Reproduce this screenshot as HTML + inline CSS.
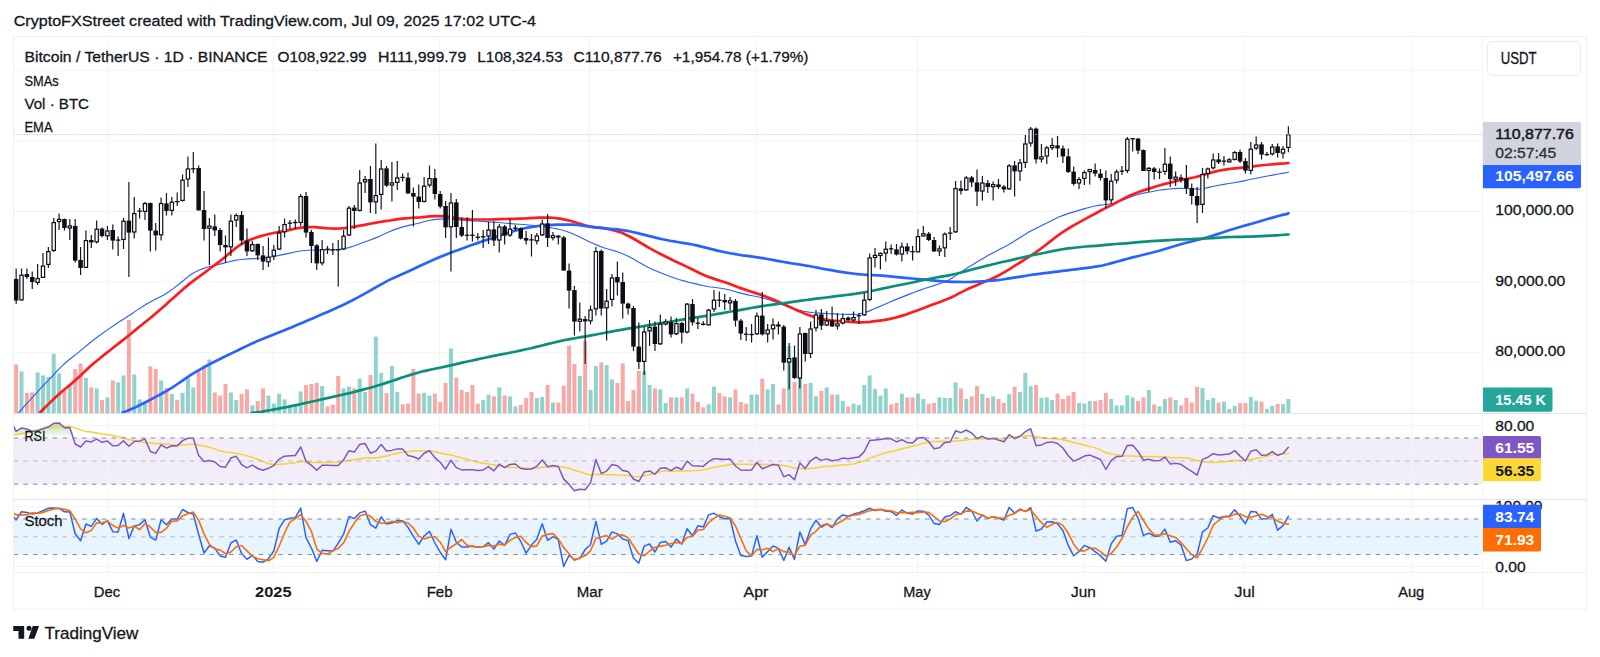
<!DOCTYPE html>
<html lang="en"><head><meta charset="utf-8"><title>BTCUSDT chart</title>
<style>
html,body{margin:0;padding:0;background:#fff;}
body{width:1600px;height:657px;overflow:hidden;font-family:"Liberation Sans", sans-serif;}
svg{display:block;font-family:"Liberation Sans", sans-serif;}
text{white-space:pre;}
</style></head><body>
<svg width="1600" height="657" viewBox="0 0 1600 657">
<rect x="0" y="0" width="1600" height="657" fill="#fff"/>
<rect x="13.5" y="438" width="1469.0" height="46.2" fill="#7e57c2" fill-opacity="0.1"/>
<rect x="13.5" y="519" width="1469.0" height="35.6" fill="#2196f3" fill-opacity="0.1"/>
<line x1="107.5" y1="36.5" x2="107.5" y2="572.5" stroke="#f4f4f7" stroke-width="1"/>
<line x1="273.5" y1="36.5" x2="273.5" y2="572.5" stroke="#f4f4f7" stroke-width="1"/>
<line x1="439.5" y1="36.5" x2="439.5" y2="572.5" stroke="#f4f4f7" stroke-width="1"/>
<line x1="589.5" y1="36.5" x2="589.5" y2="572.5" stroke="#f4f4f7" stroke-width="1"/>
<line x1="756.5" y1="36.5" x2="756.5" y2="572.5" stroke="#f4f4f7" stroke-width="1"/>
<line x1="917.5" y1="36.5" x2="917.5" y2="572.5" stroke="#f4f4f7" stroke-width="1"/>
<line x1="1083.5" y1="36.5" x2="1083.5" y2="572.5" stroke="#f4f4f7" stroke-width="1"/>
<line x1="1244.5" y1="36.5" x2="1244.5" y2="572.5" stroke="#f4f4f7" stroke-width="1"/>
<line x1="1411.5" y1="36.5" x2="1411.5" y2="572.5" stroke="#f4f4f7" stroke-width="1"/>
<line x1="13.5" y1="70.3" x2="1482.5" y2="70.3" stroke="#f4f4f7" stroke-width="1"/>
<line x1="13.5" y1="140.9" x2="1482.5" y2="140.9" stroke="#f4f4f7" stroke-width="1"/>
<line x1="13.5" y1="211.5" x2="1482.5" y2="211.5" stroke="#f4f4f7" stroke-width="1"/>
<line x1="13.5" y1="282.0" x2="1482.5" y2="282.0" stroke="#f4f4f7" stroke-width="1"/>
<line x1="13.5" y1="352.6" x2="1482.5" y2="352.6" stroke="#f4f4f7" stroke-width="1"/>
<line x1="13.5" y1="425.5" x2="1482.5" y2="425.5" stroke="#f4f4f7" stroke-width="1"/>
<line x1="13.5" y1="449.5" x2="1482.5" y2="449.5" stroke="#f4f4f7" stroke-width="1"/>
<line x1="13.5" y1="472.5" x2="1482.5" y2="472.5" stroke="#f4f4f7" stroke-width="1"/>
<line x1="13.5" y1="506.5" x2="1482.5" y2="506.5" stroke="#f4f4f7" stroke-width="1"/>
<line x1="13.5" y1="566.5" x2="1482.5" y2="566.5" stroke="#f4f4f7" stroke-width="1"/>
<defs><clipPath id="cm"><rect x="14.0" y="37" width="1468.0" height="376.5"/></clipPath><clipPath id="cr"><rect x="14.0" y="414" width="1468.0" height="85.5"/></clipPath><clipPath id="cs"><rect x="14.0" y="500" width="1468.0" height="72.5"/></clipPath></defs>
<g clip-path="url(#cm)">
<rect x="14.15" y="364.4" width="4" height="49.1" fill="#f7a9a7"/>
<rect x="19.52" y="371.4" width="4" height="42.1" fill="#92d2cc"/>
<rect x="24.89" y="393.0" width="4" height="20.5" fill="#f7a9a7"/>
<rect x="30.25" y="392.4" width="4" height="21.1" fill="#f7a9a7"/>
<rect x="35.62" y="372.4" width="4" height="41.1" fill="#92d2cc"/>
<rect x="40.99" y="375.4" width="4" height="38.1" fill="#92d2cc"/>
<rect x="46.36" y="377.0" width="4" height="36.5" fill="#92d2cc"/>
<rect x="51.73" y="353.6" width="4" height="59.9" fill="#92d2cc"/>
<rect x="57.09" y="373.4" width="4" height="40.1" fill="#92d2cc"/>
<rect x="62.46" y="391.0" width="4" height="22.5" fill="#f7a9a7"/>
<rect x="67.83" y="386.0" width="4" height="27.5" fill="#92d2cc"/>
<rect x="73.20" y="369.0" width="4" height="44.5" fill="#f7a9a7"/>
<rect x="78.57" y="363.6" width="4" height="49.9" fill="#f7a9a7"/>
<rect x="83.93" y="378.0" width="4" height="35.5" fill="#92d2cc"/>
<rect x="89.30" y="387.4" width="4" height="26.1" fill="#f7a9a7"/>
<rect x="94.67" y="388.4" width="4" height="25.1" fill="#92d2cc"/>
<rect x="100.04" y="400.0" width="4" height="13.5" fill="#f7a9a7"/>
<rect x="105.41" y="397.4" width="4" height="16.1" fill="#92d2cc"/>
<rect x="110.77" y="380.4" width="4" height="33.1" fill="#f7a9a7"/>
<rect x="116.14" y="382.4" width="4" height="31.1" fill="#92d2cc"/>
<rect x="121.51" y="375.4" width="4" height="38.1" fill="#92d2cc"/>
<rect x="126.88" y="320.0" width="4" height="93.5" fill="#f7a9a7"/>
<rect x="132.25" y="374.4" width="4" height="39.1" fill="#92d2cc"/>
<rect x="137.61" y="399.4" width="4" height="14.1" fill="#92d2cc"/>
<rect x="142.98" y="402.0" width="4" height="11.5" fill="#92d2cc"/>
<rect x="148.35" y="366.4" width="4" height="47.1" fill="#f7a9a7"/>
<rect x="153.72" y="369.0" width="4" height="44.5" fill="#f7a9a7"/>
<rect x="159.09" y="380.4" width="4" height="33.1" fill="#92d2cc"/>
<rect x="164.45" y="388.0" width="4" height="25.5" fill="#f7a9a7"/>
<rect x="169.82" y="394.0" width="4" height="19.5" fill="#92d2cc"/>
<rect x="175.19" y="400.0" width="4" height="13.5" fill="#f7a9a7"/>
<rect x="180.56" y="393.0" width="4" height="20.5" fill="#92d2cc"/>
<rect x="185.93" y="378.0" width="4" height="35.5" fill="#92d2cc"/>
<rect x="191.29" y="387.4" width="4" height="26.1" fill="#92d2cc"/>
<rect x="196.66" y="371.0" width="4" height="42.5" fill="#f7a9a7"/>
<rect x="202.03" y="365.4" width="4" height="48.1" fill="#f7a9a7"/>
<rect x="207.40" y="359.4" width="4" height="54.1" fill="#92d2cc"/>
<rect x="212.77" y="392.4" width="4" height="21.1" fill="#f7a9a7"/>
<rect x="218.13" y="395.6" width="4" height="17.9" fill="#f7a9a7"/>
<rect x="223.50" y="384.0" width="4" height="29.5" fill="#f7a9a7"/>
<rect x="228.87" y="392.4" width="4" height="21.1" fill="#92d2cc"/>
<rect x="234.24" y="400.0" width="4" height="13.5" fill="#92d2cc"/>
<rect x="239.61" y="394.0" width="4" height="19.5" fill="#f7a9a7"/>
<rect x="244.97" y="389.4" width="4" height="24.1" fill="#f7a9a7"/>
<rect x="250.34" y="405.4" width="4" height="8.1" fill="#92d2cc"/>
<rect x="255.71" y="401.0" width="4" height="12.5" fill="#f7a9a7"/>
<rect x="261.08" y="388.4" width="4" height="25.1" fill="#f7a9a7"/>
<rect x="266.45" y="395.6" width="4" height="17.9" fill="#92d2cc"/>
<rect x="271.81" y="403.6" width="4" height="9.9" fill="#92d2cc"/>
<rect x="277.18" y="393.6" width="4" height="19.9" fill="#92d2cc"/>
<rect x="282.55" y="399.4" width="4" height="14.1" fill="#92d2cc"/>
<rect x="287.92" y="407.0" width="4" height="6.5" fill="#92d2cc"/>
<rect x="293.29" y="406.0" width="4" height="7.5" fill="#92d2cc"/>
<rect x="298.65" y="391.4" width="4" height="22.1" fill="#92d2cc"/>
<rect x="304.02" y="385.0" width="4" height="28.5" fill="#f7a9a7"/>
<rect x="309.39" y="384.0" width="4" height="29.5" fill="#f7a9a7"/>
<rect x="314.76" y="383.0" width="4" height="30.5" fill="#f7a9a7"/>
<rect x="320.13" y="386.0" width="4" height="27.5" fill="#92d2cc"/>
<rect x="325.49" y="406.4" width="4" height="7.1" fill="#f7a9a7"/>
<rect x="330.86" y="404.6" width="4" height="8.9" fill="#f7a9a7"/>
<rect x="336.23" y="376.0" width="4" height="37.5" fill="#f7a9a7"/>
<rect x="341.60" y="388.4" width="4" height="25.1" fill="#92d2cc"/>
<rect x="346.97" y="386.6" width="4" height="26.9" fill="#92d2cc"/>
<rect x="352.33" y="388.4" width="4" height="25.1" fill="#f7a9a7"/>
<rect x="357.70" y="378.6" width="4" height="34.9" fill="#92d2cc"/>
<rect x="363.07" y="392.0" width="4" height="21.5" fill="#92d2cc"/>
<rect x="368.44" y="375.0" width="4" height="38.5" fill="#f7a9a7"/>
<rect x="373.81" y="336.6" width="4" height="76.9" fill="#92d2cc"/>
<rect x="379.17" y="373.0" width="4" height="40.5" fill="#92d2cc"/>
<rect x="384.54" y="393.0" width="4" height="20.5" fill="#f7a9a7"/>
<rect x="389.91" y="366.0" width="4" height="47.5" fill="#92d2cc"/>
<rect x="395.28" y="392.0" width="4" height="21.5" fill="#92d2cc"/>
<rect x="400.65" y="404.4" width="4" height="9.1" fill="#f7a9a7"/>
<rect x="406.01" y="403.6" width="4" height="9.9" fill="#f7a9a7"/>
<rect x="411.38" y="369.0" width="4" height="44.5" fill="#f7a9a7"/>
<rect x="416.75" y="393.6" width="4" height="19.9" fill="#f7a9a7"/>
<rect x="422.12" y="393.0" width="4" height="20.5" fill="#92d2cc"/>
<rect x="427.49" y="395.6" width="4" height="17.9" fill="#92d2cc"/>
<rect x="432.85" y="393.6" width="4" height="19.9" fill="#f7a9a7"/>
<rect x="438.22" y="402.0" width="4" height="11.5" fill="#f7a9a7"/>
<rect x="443.59" y="383.0" width="4" height="30.5" fill="#f7a9a7"/>
<rect x="448.96" y="348.4" width="4" height="65.1" fill="#92d2cc"/>
<rect x="454.33" y="377.6" width="4" height="35.9" fill="#f7a9a7"/>
<rect x="459.69" y="390.0" width="4" height="23.5" fill="#f7a9a7"/>
<rect x="465.06" y="392.0" width="4" height="21.5" fill="#f7a9a7"/>
<rect x="470.43" y="385.0" width="4" height="28.5" fill="#f7a9a7"/>
<rect x="475.80" y="403.6" width="4" height="9.9" fill="#f7a9a7"/>
<rect x="481.17" y="400.0" width="4" height="13.5" fill="#92d2cc"/>
<rect x="486.53" y="394.6" width="4" height="18.9" fill="#92d2cc"/>
<rect x="491.90" y="396.4" width="4" height="17.1" fill="#f7a9a7"/>
<rect x="497.27" y="387.4" width="4" height="26.1" fill="#92d2cc"/>
<rect x="502.64" y="395.4" width="4" height="18.1" fill="#f7a9a7"/>
<rect x="508.01" y="396.4" width="4" height="17.1" fill="#92d2cc"/>
<rect x="513.37" y="406.4" width="4" height="7.1" fill="#92d2cc"/>
<rect x="518.74" y="405.0" width="4" height="8.5" fill="#f7a9a7"/>
<rect x="524.11" y="398.0" width="4" height="15.5" fill="#f7a9a7"/>
<rect x="529.48" y="392.0" width="4" height="21.5" fill="#f7a9a7"/>
<rect x="534.85" y="398.0" width="4" height="15.5" fill="#92d2cc"/>
<rect x="540.21" y="397.0" width="4" height="16.5" fill="#92d2cc"/>
<rect x="545.58" y="385.0" width="4" height="28.5" fill="#f7a9a7"/>
<rect x="550.95" y="402.6" width="4" height="10.9" fill="#92d2cc"/>
<rect x="556.32" y="402.6" width="4" height="10.9" fill="#f7a9a7"/>
<rect x="561.69" y="385.6" width="4" height="27.9" fill="#f7a9a7"/>
<rect x="567.05" y="345.6" width="4" height="67.9" fill="#f7a9a7"/>
<rect x="572.42" y="364.0" width="4" height="49.5" fill="#f7a9a7"/>
<rect x="577.79" y="376.0" width="4" height="37.5" fill="#92d2cc"/>
<rect x="583.16" y="341.0" width="4" height="72.5" fill="#f7a9a7"/>
<rect x="588.53" y="390.0" width="4" height="23.5" fill="#92d2cc"/>
<rect x="593.89" y="366.0" width="4" height="47.5" fill="#92d2cc"/>
<rect x="599.26" y="362.4" width="4" height="51.1" fill="#f7a9a7"/>
<rect x="604.63" y="365.0" width="4" height="48.5" fill="#92d2cc"/>
<rect x="610.00" y="379.4" width="4" height="34.1" fill="#92d2cc"/>
<rect x="615.37" y="383.0" width="4" height="30.5" fill="#f7a9a7"/>
<rect x="620.73" y="363.4" width="4" height="50.1" fill="#f7a9a7"/>
<rect x="626.10" y="401.0" width="4" height="12.5" fill="#f7a9a7"/>
<rect x="631.47" y="390.0" width="4" height="23.5" fill="#f7a9a7"/>
<rect x="636.84" y="371.0" width="4" height="42.5" fill="#f7a9a7"/>
<rect x="642.21" y="371.0" width="4" height="42.5" fill="#92d2cc"/>
<rect x="647.57" y="385.0" width="4" height="28.5" fill="#92d2cc"/>
<rect x="652.94" y="388.4" width="4" height="25.1" fill="#f7a9a7"/>
<rect x="658.31" y="389.4" width="4" height="24.1" fill="#92d2cc"/>
<rect x="663.68" y="403.0" width="4" height="10.5" fill="#92d2cc"/>
<rect x="669.05" y="397.4" width="4" height="16.1" fill="#f7a9a7"/>
<rect x="674.41" y="397.4" width="4" height="16.1" fill="#92d2cc"/>
<rect x="679.78" y="397.4" width="4" height="16.1" fill="#f7a9a7"/>
<rect x="685.15" y="388.4" width="4" height="25.1" fill="#92d2cc"/>
<rect x="690.52" y="393.6" width="4" height="19.9" fill="#f7a9a7"/>
<rect x="695.89" y="402.0" width="4" height="11.5" fill="#f7a9a7"/>
<rect x="701.25" y="407.4" width="4" height="6.1" fill="#f7a9a7"/>
<rect x="706.62" y="404.4" width="4" height="9.1" fill="#92d2cc"/>
<rect x="711.99" y="386.6" width="4" height="26.9" fill="#92d2cc"/>
<rect x="717.36" y="393.0" width="4" height="20.5" fill="#f7a9a7"/>
<rect x="722.73" y="396.4" width="4" height="17.1" fill="#f7a9a7"/>
<rect x="728.09" y="397.4" width="4" height="16.1" fill="#92d2cc"/>
<rect x="733.46" y="389.4" width="4" height="24.1" fill="#f7a9a7"/>
<rect x="738.83" y="402.0" width="4" height="11.5" fill="#f7a9a7"/>
<rect x="744.20" y="403.6" width="4" height="9.9" fill="#f7a9a7"/>
<rect x="749.57" y="394.6" width="4" height="18.9" fill="#92d2cc"/>
<rect x="754.93" y="394.6" width="4" height="18.9" fill="#92d2cc"/>
<rect x="760.30" y="378.6" width="4" height="34.9" fill="#f7a9a7"/>
<rect x="765.67" y="389.4" width="4" height="24.1" fill="#92d2cc"/>
<rect x="771.04" y="384.0" width="4" height="29.5" fill="#92d2cc"/>
<rect x="776.41" y="404.4" width="4" height="9.1" fill="#f7a9a7"/>
<rect x="781.77" y="388.4" width="4" height="25.1" fill="#f7a9a7"/>
<rect x="787.14" y="346.0" width="4" height="67.5" fill="#92d2cc"/>
<rect x="792.51" y="382.0" width="4" height="31.5" fill="#f7a9a7"/>
<rect x="797.88" y="348.0" width="4" height="65.5" fill="#92d2cc"/>
<rect x="803.25" y="384.0" width="4" height="29.5" fill="#f7a9a7"/>
<rect x="808.61" y="383.0" width="4" height="30.5" fill="#92d2cc"/>
<rect x="813.98" y="396.4" width="4" height="17.1" fill="#92d2cc"/>
<rect x="819.35" y="391.0" width="4" height="22.5" fill="#f7a9a7"/>
<rect x="824.72" y="387.4" width="4" height="26.1" fill="#92d2cc"/>
<rect x="830.09" y="394.6" width="4" height="18.9" fill="#f7a9a7"/>
<rect x="835.45" y="394.6" width="4" height="18.9" fill="#92d2cc"/>
<rect x="840.82" y="401.0" width="4" height="12.5" fill="#92d2cc"/>
<rect x="846.19" y="406.4" width="4" height="7.1" fill="#f7a9a7"/>
<rect x="851.56" y="403.6" width="4" height="9.9" fill="#92d2cc"/>
<rect x="856.93" y="405.0" width="4" height="8.5" fill="#92d2cc"/>
<rect x="862.29" y="385.0" width="4" height="28.5" fill="#92d2cc"/>
<rect x="867.66" y="375.4" width="4" height="38.1" fill="#92d2cc"/>
<rect x="873.03" y="389.0" width="4" height="24.5" fill="#92d2cc"/>
<rect x="878.40" y="395.6" width="4" height="17.9" fill="#92d2cc"/>
<rect x="883.77" y="388.4" width="4" height="25.1" fill="#92d2cc"/>
<rect x="889.13" y="404.4" width="4" height="9.1" fill="#f7a9a7"/>
<rect x="894.50" y="403.0" width="4" height="10.5" fill="#f7a9a7"/>
<rect x="899.87" y="393.6" width="4" height="19.9" fill="#92d2cc"/>
<rect x="905.24" y="397.4" width="4" height="16.1" fill="#f7a9a7"/>
<rect x="910.61" y="397.4" width="4" height="16.1" fill="#f7a9a7"/>
<rect x="915.97" y="393.6" width="4" height="19.9" fill="#92d2cc"/>
<rect x="921.34" y="399.0" width="4" height="14.5" fill="#92d2cc"/>
<rect x="926.71" y="403.6" width="4" height="9.9" fill="#f7a9a7"/>
<rect x="932.08" y="403.0" width="4" height="10.5" fill="#f7a9a7"/>
<rect x="937.45" y="397.4" width="4" height="16.1" fill="#92d2cc"/>
<rect x="942.81" y="398.0" width="4" height="15.5" fill="#92d2cc"/>
<rect x="948.18" y="398.0" width="4" height="15.5" fill="#92d2cc"/>
<rect x="953.55" y="382.4" width="4" height="31.1" fill="#92d2cc"/>
<rect x="958.92" y="388.4" width="4" height="25.1" fill="#f7a9a7"/>
<rect x="964.29" y="399.0" width="4" height="14.5" fill="#92d2cc"/>
<rect x="969.65" y="396.4" width="4" height="17.1" fill="#f7a9a7"/>
<rect x="975.02" y="386.0" width="4" height="27.5" fill="#f7a9a7"/>
<rect x="980.39" y="394.0" width="4" height="19.5" fill="#92d2cc"/>
<rect x="985.76" y="398.0" width="4" height="15.5" fill="#f7a9a7"/>
<rect x="991.13" y="396.4" width="4" height="17.1" fill="#92d2cc"/>
<rect x="996.49" y="399.0" width="4" height="14.5" fill="#f7a9a7"/>
<rect x="1001.86" y="403.0" width="4" height="10.5" fill="#f7a9a7"/>
<rect x="1007.23" y="394.0" width="4" height="19.5" fill="#92d2cc"/>
<rect x="1012.60" y="386.6" width="4" height="26.9" fill="#f7a9a7"/>
<rect x="1017.97" y="392.0" width="4" height="21.5" fill="#92d2cc"/>
<rect x="1023.33" y="373.0" width="4" height="40.5" fill="#92d2cc"/>
<rect x="1028.70" y="386.0" width="4" height="27.5" fill="#92d2cc"/>
<rect x="1034.07" y="385.0" width="4" height="28.5" fill="#f7a9a7"/>
<rect x="1039.44" y="398.0" width="4" height="15.5" fill="#92d2cc"/>
<rect x="1044.81" y="397.4" width="4" height="16.1" fill="#92d2cc"/>
<rect x="1050.17" y="400.0" width="4" height="13.5" fill="#92d2cc"/>
<rect x="1055.54" y="393.6" width="4" height="19.9" fill="#f7a9a7"/>
<rect x="1060.91" y="399.0" width="4" height="14.5" fill="#f7a9a7"/>
<rect x="1066.28" y="395.6" width="4" height="17.9" fill="#f7a9a7"/>
<rect x="1071.65" y="392.0" width="4" height="21.5" fill="#f7a9a7"/>
<rect x="1077.01" y="403.0" width="4" height="10.5" fill="#92d2cc"/>
<rect x="1082.38" y="403.6" width="4" height="9.9" fill="#92d2cc"/>
<rect x="1087.75" y="401.0" width="4" height="12.5" fill="#92d2cc"/>
<rect x="1093.12" y="401.0" width="4" height="12.5" fill="#f7a9a7"/>
<rect x="1098.49" y="400.0" width="4" height="13.5" fill="#f7a9a7"/>
<rect x="1103.85" y="393.0" width="4" height="20.5" fill="#f7a9a7"/>
<rect x="1109.22" y="399.0" width="4" height="14.5" fill="#92d2cc"/>
<rect x="1114.59" y="405.4" width="4" height="8.1" fill="#92d2cc"/>
<rect x="1119.96" y="405.4" width="4" height="8.1" fill="#92d2cc"/>
<rect x="1125.33" y="395.4" width="4" height="18.1" fill="#92d2cc"/>
<rect x="1130.69" y="397.4" width="4" height="16.1" fill="#92d2cc"/>
<rect x="1136.06" y="401.0" width="4" height="12.5" fill="#f7a9a7"/>
<rect x="1141.43" y="397.4" width="4" height="16.1" fill="#f7a9a7"/>
<rect x="1146.80" y="390.0" width="4" height="23.5" fill="#92d2cc"/>
<rect x="1152.17" y="404.4" width="4" height="9.1" fill="#f7a9a7"/>
<rect x="1157.53" y="406.4" width="4" height="7.1" fill="#92d2cc"/>
<rect x="1162.90" y="399.0" width="4" height="14.5" fill="#92d2cc"/>
<rect x="1168.27" y="397.4" width="4" height="16.1" fill="#f7a9a7"/>
<rect x="1173.64" y="400.0" width="4" height="13.5" fill="#92d2cc"/>
<rect x="1179.01" y="405.4" width="4" height="8.1" fill="#f7a9a7"/>
<rect x="1184.37" y="398.0" width="4" height="15.5" fill="#f7a9a7"/>
<rect x="1189.74" y="402.5" width="4" height="11.0" fill="#f7a9a7"/>
<rect x="1195.11" y="387.0" width="4" height="26.5" fill="#f7a9a7"/>
<rect x="1200.48" y="388.0" width="4" height="25.5" fill="#92d2cc"/>
<rect x="1205.85" y="399.8" width="4" height="13.7" fill="#92d2cc"/>
<rect x="1211.21" y="398.0" width="4" height="15.5" fill="#92d2cc"/>
<rect x="1216.58" y="402.5" width="4" height="11.0" fill="#f7a9a7"/>
<rect x="1221.95" y="401.6" width="4" height="11.9" fill="#92d2cc"/>
<rect x="1227.32" y="408.8" width="4" height="4.7" fill="#92d2cc"/>
<rect x="1232.69" y="405.9" width="4" height="7.6" fill="#92d2cc"/>
<rect x="1238.05" y="403.1" width="4" height="10.4" fill="#f7a9a7"/>
<rect x="1243.42" y="403.1" width="4" height="10.4" fill="#f7a9a7"/>
<rect x="1248.79" y="396.9" width="4" height="16.6" fill="#92d2cc"/>
<rect x="1254.16" y="400.7" width="4" height="12.8" fill="#92d2cc"/>
<rect x="1259.53" y="401.6" width="4" height="11.9" fill="#f7a9a7"/>
<rect x="1264.89" y="408.8" width="4" height="4.7" fill="#92d2cc"/>
<rect x="1270.26" y="405.9" width="4" height="7.6" fill="#92d2cc"/>
<rect x="1275.63" y="404.0" width="4" height="9.5" fill="#f7a9a7"/>
<rect x="1281.00" y="404.2" width="4" height="9.3" fill="#92d2cc"/>
<rect x="1286.37" y="399.0" width="4" height="14.5" fill="#92d2cc"/>
<path d="M18.8 412.5L23.8 406.9L28.8 401.4L33.8 395.8L38.8 390.3L43.8 385.0L48.8 379.9L53.8 374.5L58.8 369.1L63.8 364.3L68.8 360.0L73.8 356.0L78.8 352.1L83.8 347.9L88.8 343.7L93.8 339.7L98.8 336.0L103.8 332.4L108.8 328.9L113.8 325.5L118.8 322.1L123.8 318.9L128.8 315.7L133.8 312.4L138.8 308.9L143.8 305.7L148.8 302.7L153.8 300.1L158.8 297.6L163.8 294.9L168.8 291.7L173.8 288.1L178.8 284.3L183.8 280.2L188.8 276.1L193.8 272.7L198.8 270.3L203.8 268.4L208.8 266.8L213.8 265.5L218.8 264.4L223.8 263.1L228.8 261.7L233.8 260.6L238.8 259.8L243.8 259.2L248.8 258.9L253.8 258.6L258.8 258.3L263.8 258.0L268.8 257.4L273.8 256.5L278.8 255.4L283.8 254.4L288.8 253.4L293.8 252.3L298.8 251.2L303.8 250.5L308.8 250.2L313.8 250.0L318.8 250.0L323.8 250.0L328.8 250.0L333.8 249.8L338.8 249.4L343.8 248.7L348.8 247.6L353.8 246.0L358.8 244.2L363.8 242.3L368.8 240.5L373.8 238.6L378.8 236.6L383.8 234.3L388.8 232.0L393.8 229.9L398.8 228.1L403.8 226.6L408.8 225.4L413.8 224.3L418.8 223.2L423.8 221.8L428.8 220.5L433.8 219.6L438.8 219.1L443.8 219.0L448.8 219.2L453.8 219.5L458.8 219.9L463.8 220.3L468.8 220.6L473.8 220.9L478.8 221.2L483.8 221.5L488.8 221.9L493.8 222.2L498.8 222.5L503.8 223.0L508.8 223.5L513.8 223.9L518.8 224.2L523.8 224.5L528.8 225.0L533.8 225.5L538.8 226.1L543.8 226.7L548.8 227.4L553.8 228.2L558.8 229.2L563.8 230.5L568.8 232.2L573.8 234.2L578.8 236.5L583.8 239.1L588.8 241.5L593.8 243.7L598.8 245.9L603.8 247.8L608.8 249.2L613.8 250.6L618.8 252.3L623.8 254.2L628.8 256.6L633.8 259.3L638.8 262.2L643.8 265.0L648.8 267.7L653.8 270.0L658.8 272.0L663.8 274.0L668.8 276.0L673.8 277.8L678.8 279.5L683.8 280.9L688.8 282.2L693.8 283.4L698.8 284.6L703.8 285.7L708.8 286.7L713.8 287.3L718.8 288.0L723.8 288.8L728.8 289.8L733.8 291.2L738.8 292.6L743.8 293.9L748.8 295.1L753.8 296.0L758.8 297.0L763.8 298.2L768.8 299.7L773.8 301.4L778.8 303.3L783.8 305.2L788.8 307.0L793.8 308.6L798.8 310.0L803.8 311.2L808.8 312.1L813.8 312.7L818.8 313.1L823.8 313.4L828.8 313.7L833.8 313.9L838.8 314.2L843.8 314.3L848.8 314.4L853.8 314.4L858.8 314.0L863.8 312.9L868.8 311.1L873.8 309.0L878.8 306.9L883.8 304.7L888.8 302.5L893.8 300.4L898.8 298.4L903.8 296.4L908.8 294.4L913.8 292.5L918.8 290.6L923.8 288.8L928.8 287.2L933.8 285.6L938.8 284.0L943.8 282.3L948.8 280.1L953.8 277.1L958.8 273.6L963.8 270.2L968.8 267.0L973.8 263.9L978.8 260.8L983.8 257.9L988.8 255.0L993.8 252.4L998.8 249.8L1003.8 247.2L1008.8 244.4L1013.8 241.4L1018.8 238.3L1023.8 235.2L1028.8 232.1L1033.8 229.4L1038.8 226.9L1043.8 224.4L1048.8 221.9L1053.8 219.4L1058.8 217.0L1063.8 215.1L1068.8 213.4L1073.8 211.9L1078.8 210.4L1083.8 208.9L1088.8 207.5L1093.8 206.3L1098.8 205.4L1103.8 204.8L1108.8 204.1L1113.8 203.1L1118.8 201.5L1123.8 199.6L1128.8 197.6L1133.8 195.8L1138.8 194.3L1143.8 193.1L1148.8 192.2L1153.8 191.2L1158.8 190.3L1163.8 189.6L1168.8 189.0L1173.8 188.6L1178.8 188.4L1183.8 188.5L1188.8 188.7L1193.8 189.0L1198.8 189.1L1203.8 188.5L1208.8 187.4L1213.8 186.3L1218.8 185.3L1223.8 184.4L1228.8 183.5L1233.8 182.7L1238.8 181.9L1243.8 180.9L1248.8 179.8L1253.8 178.8L1258.8 177.8L1263.8 176.8L1268.8 175.8L1273.8 174.9L1278.8 174.0L1283.8 173.1L1288.5 172.2" stroke="#2962ff" stroke-width="1.15" fill="none" stroke-linejoin="round" stroke-linecap="round"/>
<path d="M40.0 412.5L45.0 407.5L50.0 402.6L55.0 397.8L60.0 393.3L65.0 389.0L70.0 384.9L75.0 380.6L80.0 376.0L85.0 371.3L90.0 366.6L95.0 362.3L100.0 358.2L105.0 354.1L110.0 350.2L115.0 346.3L120.0 342.4L125.0 338.5L130.0 334.5L135.0 330.4L140.0 326.3L145.0 322.2L150.0 318.2L155.0 314.1L160.0 309.8L165.0 305.4L170.0 300.8L175.0 296.4L180.0 292.0L185.0 287.6L190.0 283.4L195.0 279.6L200.0 276.0L205.0 272.3L210.0 268.5L215.0 264.9L220.0 261.1L225.0 257.0L230.0 252.7L235.0 248.6L240.0 245.0L245.0 242.1L250.0 239.8L255.0 238.0L260.0 236.4L265.0 235.0L270.0 233.8L275.0 232.8L280.0 231.8L285.0 230.9L290.0 229.9L295.0 228.8L300.0 227.8L305.0 227.2L310.0 227.0L315.0 227.2L320.0 227.6L325.0 228.1L330.0 228.5L335.0 228.7L340.0 228.5L345.0 228.1L350.0 227.4L355.0 226.6L360.0 225.7L365.0 224.8L370.0 223.8L375.0 222.9L380.0 222.0L385.0 221.2L390.0 220.5L395.0 219.6L400.0 218.9L405.0 218.4L410.0 218.0L415.0 217.7L420.0 217.4L425.0 216.9L430.0 216.4L435.0 216.1L440.0 216.1L445.0 216.4L450.0 217.1L455.0 217.9L460.0 218.6L465.0 219.1L470.0 219.4L475.0 219.5L480.0 219.5L485.0 219.5L490.0 219.5L495.0 219.4L500.0 219.2L505.0 219.0L510.0 218.8L515.0 218.8L520.0 218.7L525.0 218.5L530.0 218.2L535.0 217.9L540.0 217.6L545.0 217.5L550.0 217.6L555.0 218.0L560.0 218.6L565.0 219.6L570.0 220.8L575.0 222.3L580.0 223.8L585.0 225.3L590.0 226.5L595.0 227.2L600.0 227.7L605.0 228.4L610.0 229.4L615.0 230.6L620.0 232.1L625.0 234.2L630.0 236.7L635.0 239.5L640.0 242.5L645.0 245.5L650.0 248.4L655.0 251.1L660.0 253.7L665.0 256.2L670.0 258.7L675.0 261.2L680.0 263.5L685.0 265.9L690.0 268.3L695.0 270.8L700.0 273.3L705.0 275.5L710.0 277.4L715.0 279.1L720.0 280.7L725.0 282.3L730.0 284.1L735.0 286.0L740.0 287.9L745.0 289.6L750.0 291.2L755.0 292.9L760.0 294.5L765.0 296.3L770.0 298.2L775.0 300.3L780.0 302.5L785.0 304.8L790.0 307.0L795.0 309.4L800.0 311.6L805.0 313.7L810.0 315.6L815.0 317.2L820.0 318.5L825.0 319.6L830.0 320.3L835.0 320.8L840.0 321.2L845.0 321.5L850.0 321.8L855.0 322.1L860.0 322.3L865.0 322.2L870.0 321.8L875.0 321.2L880.0 320.6L885.0 319.9L890.0 318.9L895.0 317.8L900.0 316.4L905.0 314.9L910.0 313.1L915.0 311.2L920.0 309.4L925.0 307.5L930.0 305.6L935.0 303.8L940.0 301.9L945.0 300.0L950.0 298.0L955.0 295.6L960.0 292.9L965.0 290.4L970.0 288.0L975.0 285.9L980.0 283.8L985.0 281.6L990.0 279.5L995.0 277.2L1000.0 274.7L1005.0 271.8L1010.0 268.8L1015.0 265.6L1020.0 262.5L1025.0 259.4L1030.0 256.2L1035.0 252.8L1040.0 249.3L1045.0 245.5L1050.0 241.6L1055.0 237.7L1060.0 234.0L1065.0 230.6L1070.0 227.5L1075.0 224.6L1080.0 221.9L1085.0 219.1L1090.0 216.4L1095.0 213.7L1100.0 211.0L1105.0 208.4L1110.0 205.9L1115.0 203.3L1120.0 200.6L1125.0 197.9L1130.0 195.5L1135.0 193.4L1140.0 191.5L1145.0 189.9L1150.0 188.4L1155.0 186.8L1160.0 185.3L1165.0 183.9L1170.0 182.7L1175.0 181.4L1180.0 180.3L1185.0 179.3L1190.0 178.3L1195.0 177.2L1200.0 175.9L1205.0 174.4L1210.0 172.9L1215.0 171.6L1220.0 170.5L1225.0 169.6L1230.0 168.9L1235.0 168.4L1240.0 167.9L1245.0 167.4L1250.0 166.8L1255.0 166.1L1260.0 165.5L1265.0 165.0L1270.0 164.5L1275.0 164.1L1280.0 163.7L1285.0 163.4L1288.5 163.0" stroke="#ff1c1c" stroke-width="2.7" fill="none" stroke-linejoin="round" stroke-linecap="round"/>
<path d="M122.5 412.5L127.5 410.7L132.5 408.6L137.5 406.2L142.5 403.7L147.5 401.2L152.5 398.6L157.5 395.9L162.5 393.2L167.5 390.4L172.5 387.4L177.5 384.0L182.5 380.6L187.5 377.1L192.5 373.9L197.5 370.9L202.5 368.1L207.5 365.3L212.5 362.7L217.5 360.2L222.5 357.7L227.5 355.3L232.5 352.9L237.5 350.5L242.5 348.0L247.5 345.6L252.5 343.3L257.5 341.1L262.5 339.0L267.5 337.0L272.5 335.0L277.5 333.0L282.5 331.0L287.5 329.0L292.5 326.9L297.5 324.8L302.5 322.7L307.5 320.6L312.5 318.4L317.5 316.3L322.5 314.1L327.5 311.9L332.5 309.7L337.5 307.5L342.5 305.2L347.5 302.8L352.5 300.3L357.5 297.6L362.5 294.9L367.5 292.1L372.5 289.3L377.5 286.4L382.5 283.6L387.5 280.9L392.5 278.4L397.5 276.2L402.5 274.0L407.5 271.7L412.5 269.4L417.5 267.1L422.5 264.8L427.5 262.5L432.5 260.3L437.5 258.1L442.5 256.0L447.5 254.0L452.5 252.1L457.5 250.2L462.5 248.4L467.5 246.6L472.5 244.8L477.5 243.1L482.5 241.3L487.5 239.6L492.5 238.0L497.5 236.3L502.5 234.6L507.5 233.0L512.5 231.4L517.5 230.0L522.5 228.8L527.5 227.7L532.5 226.8L537.5 226.1L542.5 225.6L547.5 225.2L552.5 224.9L557.5 224.7L562.5 224.6L567.5 224.6L572.5 224.7L577.5 225.0L582.5 225.6L587.5 226.4L592.5 227.1L597.5 227.7L602.5 228.2L607.5 228.6L612.5 229.0L617.5 229.4L622.5 230.1L627.5 230.9L632.5 232.0L637.5 233.1L642.5 234.4L647.5 235.6L652.5 236.9L657.5 238.1L662.5 239.2L667.5 240.2L672.5 241.2L677.5 242.0L682.5 242.8L687.5 243.6L692.5 244.5L697.5 245.6L702.5 246.9L707.5 248.1L712.5 249.4L717.5 250.6L722.5 251.7L727.5 252.7L732.5 253.7L737.5 254.5L742.5 255.3L747.5 255.9L752.5 256.6L757.5 257.3L762.5 258.1L767.5 259.0L772.5 259.9L777.5 260.8L782.5 261.8L787.5 262.7L792.5 263.5L797.5 264.2L802.5 265.0L807.5 265.8L812.5 266.8L817.5 267.7L822.5 268.7L827.5 269.6L832.5 270.4L837.5 271.3L842.5 272.1L847.5 272.8L852.5 273.5L857.5 274.1L862.5 274.5L867.5 274.9L872.5 275.1L877.5 275.4L882.5 275.7L887.5 276.1L892.5 276.6L897.5 277.1L902.5 277.6L907.5 278.1L912.5 278.5L917.5 279.0L922.5 279.4L927.5 279.9L932.5 280.4L937.5 280.9L942.5 281.3L947.5 281.6L952.5 281.8L957.5 281.9L962.5 282.0L967.5 282.0L972.5 281.9L977.5 281.7L982.5 281.4L987.5 281.0L992.5 280.6L997.5 280.1L1002.5 279.5L1007.5 278.7L1012.5 277.9L1017.5 277.1L1022.5 276.3L1027.5 275.5L1032.5 274.7L1037.5 274.1L1042.5 273.4L1047.5 272.8L1052.5 272.2L1057.5 271.6L1062.5 270.9L1067.5 270.3L1072.5 269.7L1077.5 269.1L1082.5 268.4L1087.5 267.8L1092.5 267.2L1097.5 266.4L1102.5 265.5L1107.5 264.3L1112.5 262.9L1117.5 261.5L1122.5 260.1L1127.5 258.7L1132.5 257.4L1137.5 256.2L1142.5 255.0L1147.5 253.8L1152.5 252.5L1157.5 251.2L1162.5 249.7L1167.5 248.2L1172.5 246.8L1177.5 245.3L1182.5 243.8L1187.5 242.5L1192.5 241.2L1197.5 240.0L1202.5 238.7L1207.5 237.3L1212.5 235.8L1217.5 234.1L1222.5 232.5L1227.5 230.8L1232.5 229.3L1237.5 227.8L1242.5 226.3L1247.5 224.9L1252.5 223.5L1257.5 222.0L1262.5 220.5L1267.5 219.0L1272.5 217.6L1277.5 216.2L1282.5 214.9L1287.5 213.9L1288.5 213.2" stroke="#2962ff" stroke-width="2.7" fill="none" stroke-linejoin="round" stroke-linecap="round"/>
<path d="M251.2 413.0L256.2 412.4L261.2 411.8L266.2 410.9L271.2 410.0L276.2 409.1L281.2 408.2L286.2 407.2L291.2 406.1L296.2 405.1L301.2 404.0L306.2 402.9L311.2 401.8L316.2 400.7L321.2 399.5L326.2 398.4L331.2 397.2L336.2 396.1L341.2 395.0L346.2 393.9L351.2 392.7L356.2 391.4L361.2 390.1L366.2 388.8L371.2 387.5L376.2 386.0L381.2 384.5L386.2 382.9L391.2 381.3L396.2 379.6L401.2 377.8L406.2 376.2L411.2 374.6L416.2 373.2L421.2 371.8L426.2 370.6L431.2 369.5L436.2 368.5L441.2 367.5L446.2 366.4L451.2 365.3L456.2 364.1L461.2 362.9L466.2 361.8L471.2 360.7L476.2 359.6L481.2 358.5L486.2 357.5L491.2 356.4L496.2 355.4L501.2 354.4L506.2 353.5L511.2 352.5L516.2 351.5L521.2 350.4L526.2 349.3L531.2 348.2L536.2 346.9L541.2 345.7L546.2 344.4L551.2 343.2L556.2 342.0L561.2 340.9L566.2 339.8L571.2 338.9L576.2 338.0L581.2 337.2L586.2 336.3L591.2 335.4L596.2 334.5L601.2 333.5L606.2 332.5L611.2 331.6L616.2 330.7L621.2 329.8L626.2 328.9L631.2 328.1L636.2 327.3L641.2 326.5L646.2 325.7L651.2 324.8L656.2 323.9L661.2 323.1L666.2 322.3L671.2 321.5L676.2 320.7L681.2 319.8L686.2 318.9L691.2 318.2L696.2 317.4L701.2 316.7L706.2 315.9L711.2 315.1L716.2 314.2L721.2 313.3L726.2 312.4L731.2 311.5L736.2 310.7L741.2 309.8L746.2 308.9L751.2 308.0L756.2 307.2L761.2 306.3L766.2 305.5L771.2 304.8L776.2 304.1L781.2 303.5L786.2 302.8L791.2 302.1L796.2 301.4L801.2 300.7L806.2 300.0L811.2 299.3L816.2 298.7L821.2 298.1L826.2 297.5L831.2 296.8L836.2 296.2L841.2 295.6L846.2 295.0L851.2 294.3L856.2 293.7L861.2 292.9L866.2 292.0L871.2 291.0L876.2 290.0L881.2 288.9L886.2 287.9L891.2 286.8L896.2 285.8L901.2 284.7L906.2 283.7L911.2 282.7L916.2 281.6L921.2 280.5L926.2 279.5L931.2 278.5L936.2 277.5L941.2 276.6L946.2 275.8L951.2 274.9L956.2 273.8L961.2 272.5L966.2 271.1L971.2 269.8L976.2 268.4L981.2 267.2L986.2 265.9L991.2 264.7L996.2 263.5L1001.2 262.3L1006.2 261.2L1011.2 260.1L1016.2 258.9L1021.2 257.8L1026.2 256.6L1031.2 255.5L1036.2 254.5L1041.2 253.5L1046.2 252.5L1051.2 251.4L1056.2 250.4L1061.2 249.5L1066.2 248.7L1071.2 248.1L1076.2 247.5L1081.2 247.0L1086.2 246.5L1091.2 246.2L1096.2 245.8L1101.2 245.3L1106.2 244.9L1111.2 244.4L1116.2 244.0L1121.2 243.7L1126.2 243.3L1131.2 242.8L1136.2 242.4L1141.2 241.9L1146.2 241.6L1151.2 241.2L1156.2 240.9L1161.2 240.6L1166.2 240.3L1171.2 240.0L1176.2 239.7L1181.2 239.5L1186.2 239.3L1191.2 239.2L1196.2 238.9L1201.2 238.7L1206.2 238.4L1211.2 238.1L1216.2 237.8L1221.2 237.5L1226.2 237.2L1231.2 237.0L1236.2 236.9L1241.2 236.8L1246.2 236.7L1251.2 236.6L1256.2 236.4L1261.2 236.2L1266.2 235.9L1271.2 235.6L1276.2 235.3L1281.2 235.0L1286.2 234.7L1288.5 234.5" stroke="#0a9078" stroke-width="2.7" fill="none" stroke-linejoin="round" stroke-linecap="round"/>
<path d="M16.15 268.5V304.0M21.52 268.5V300.5M26.89 268.5V279.0M32.25 271.5V289.0M37.62 264.0V285.0M42.99 253.0V278.0M48.36 247.0V268.0M53.73 218.0V252.0M59.09 213.6V230.0M64.46 218.6V230.4M69.83 219.0V240.0M75.20 219.0V262.4M80.57 247.0V275.0M85.93 230.4V268.0M91.30 235.0V248.0M96.67 220.4V243.6M102.04 227.4V237.6M107.41 226.0V240.0M112.77 224.4V249.6M118.14 236.6V256.0M123.51 218.0V249.0M128.88 182.0V277.0M134.25 197.0V238.6M139.61 208.0V218.6M144.98 202.0V220.0M150.35 202.4V251.4M155.72 223.0V250.6M161.09 197.4V240.6M166.45 193.0V215.4M171.82 197.0V215.4M177.19 192.4V206.0M182.56 174.4V201.6M187.93 156.4V187.0M193.29 152.0V173.0M198.66 165.4V210.4M204.03 191.0V240.6M209.40 218.0V265.0M214.77 214.4V236.0M220.13 228.0V251.4M225.50 235.6V263.0M230.87 214.4V256.0M236.24 213.6V227.0M241.61 211.0V244.6M246.97 228.6V256.0M252.34 241.0V252.0M257.71 243.6V260.0M263.08 246.0V270.0M268.45 237.4V267.0M273.81 245.0V260.0M279.18 226.0V250.0M284.55 218.4V237.4M289.92 220.0V229.0M295.29 219.4V229.0M300.65 194.0V226.0M306.02 192.0V237.4M311.39 230.0V263.0M316.76 244.0V270.0M322.13 240.0V265.6M327.49 246.0V254.0M332.86 243.0V255.0M338.23 240.0V286.4M343.60 230.0V250.0M348.97 206.0V236.0M354.33 205.0V229.0M359.70 170.0V211.6M365.07 176.0V193.0M370.44 166.0V213.0M375.81 143.6V214.0M381.17 160.0V209.6M386.54 166.0V187.0M391.91 162.0V201.6M397.28 161.0V190.0M402.65 173.6V181.4M408.01 172.6V194.0M413.38 187.4V226.4M418.75 184.4V208.6M424.12 177.0V202.4M429.49 165.4V187.4M434.85 169.0V199.4M440.22 191.0V208.6M445.59 201.0V238.0M450.96 193.0V271.6M456.33 199.0V238.0M461.69 217.6V237.0M467.06 217.0V240.6M472.43 210.0V241.6M477.80 233.0V240.6M483.17 230.0V248.0M488.53 222.0V244.0M493.90 221.0V246.0M499.27 224.0V252.4M504.64 225.0V244.6M510.01 219.0V237.0M515.37 225.0V230.4M520.74 227.4V239.4M526.11 231.0V244.6M531.48 234.0V256.6M536.85 233.0V244.6M542.21 219.6V236.0M547.58 214.0V247.0M552.95 232.0V240.6M558.32 235.0V244.4M563.69 236.0V270.6M569.05 263.6V308.6M574.42 286.0V335.6M579.79 302.4V331.6M585.16 316.0V364.0M590.53 305.6V324.6M595.89 247.0V315.6M601.26 249.6V315.6M606.63 289.0V340.6M612.00 274.0V306.4M617.37 261.6V295.4M622.73 272.4V318.6M628.10 302.4V314.4M633.47 306.0V351.0M638.84 322.4V369.0M644.21 326.4V375.0M649.57 320.0V346.0M654.94 321.6V351.0M660.31 314.4V345.0M665.68 319.0V325.6M671.05 316.4V337.4M676.41 318.0V335.0M681.78 322.0V343.4M687.15 303.0V333.6M692.52 299.0V325.6M697.89 318.0V329.0M703.25 321.0V325.6M708.62 309.0V325.6M713.99 290.0V312.0M719.36 291.6V307.0M724.73 294.0V310.0M730.09 297.0V310.0M735.46 299.0V326.4M740.83 319.0V340.0M746.20 327.0V341.0M751.57 324.0V342.4M756.93 312.4V335.0M762.30 292.0V335.6M767.67 324.0V342.4M773.04 318.6V339.4M778.41 321.6V334.4M783.77 325.0V370.6M789.14 343.0V389.6M794.51 345.6V379.0M799.88 327.0V388.4M805.25 332.4V361.6M810.61 321.6V358.0M815.98 310.0V331.4M821.35 309.0V330.0M826.72 311.0V326.0M832.09 306.4V327.0M837.45 313.0V329.4M842.82 313.6V324.4M848.19 316.4V321.0M853.56 311.6V321.6M858.93 313.0V324.0M864.29 293.0V316.0M869.66 253.6V301.0M875.03 248.0V267.6M880.40 252.4V269.6M885.77 241.4V261.4M891.13 244.4V254.0M896.50 244.0V255.6M901.87 242.4V261.4M907.24 243.0V254.6M912.61 246.0V260.6M917.97 229.0V252.4M923.34 226.0V236.6M928.71 232.0V241.0M934.08 237.0V252.0M939.45 245.6V256.0M944.81 232.4V257.0M950.18 227.0V240.0M955.55 181.0V233.0M960.92 180.6V194.4M966.29 176.0V191.0M971.65 176.0V187.0M977.02 169.6V206.0M982.39 176.0V200.6M987.76 180.0V193.0M993.13 181.6V200.6M998.49 179.0V189.0M1003.86 185.0V192.4M1009.23 164.0V190.0M1014.60 161.0V196.4M1019.97 159.0V181.0M1025.33 135.0V168.0M1030.70 127.0V146.4M1036.07 127.6V163.4M1041.44 144.0V162.4M1046.81 146.0V164.0M1052.17 138.0V150.0M1057.54 136.0V157.6M1062.91 145.6V163.0M1068.28 148.6V173.0M1073.65 166.4V185.6M1079.01 177.0V189.0M1084.38 170.4V185.0M1089.75 169.0V184.4M1095.12 163.6V176.4M1100.49 169.0V180.6M1105.85 170.4V207.6M1111.22 174.0V203.6M1116.59 169.6V183.6M1121.96 166.0V175.0M1127.33 137.0V173.0M1132.69 138.0V151.4M1138.06 138.0V154.0M1143.43 149.4V171.0M1148.80 167.0V192.0M1154.17 167.0V179.6M1159.53 168.6V179.0M1164.90 148.0V175.0M1170.27 156.4V187.0M1175.64 171.6V186.0M1181.01 174.4V182.4M1186.37 165.0V194.0M1191.74 183.4V204.4M1197.11 187.0V223.0M1202.48 168.0V213.0M1207.85 167.4V178.4M1213.21 153.6V169.4M1218.58 153.0V164.0M1223.95 156.0V165.6M1229.32 158.0V162.4M1234.69 151.0V160.6M1240.05 149.4V163.0M1245.42 158.0V173.6M1250.79 142.0V174.6M1256.16 136.4V150.0M1261.53 142.0V159.4M1266.89 152.0V156.0M1272.26 144.0V155.6M1277.63 143.4V157.4M1283.00 146.0V158.6M1288.37 126.3V152.2" stroke="#131722" stroke-width="1.2" fill="none"/>
<g fill="#0c0e15"><rect x="13.90" y="279.0" width="4.5" height="21.5"/><rect x="24.64" y="274.0" width="4.5" height="3.0"/><rect x="30.00" y="277.0" width="4.5" height="5.0"/><rect x="62.21" y="219.0" width="4.5" height="9.0"/><rect x="72.95" y="226.0" width="4.5" height="34.6"/><rect x="78.32" y="260.0" width="4.5" height="8.0"/><rect x="89.05" y="240.0" width="4.5" height="2.4"/><rect x="99.79" y="228.6" width="4.5" height="7.4"/><rect x="110.52" y="230.0" width="4.5" height="10.6"/><rect x="115.89" y="239.5" width="4.5" height="1.3"/><rect x="126.63" y="220.6" width="4.5" height="12.0"/><rect x="137.36" y="210.5" width="4.5" height="1.3"/><rect x="148.10" y="203.0" width="4.5" height="27.6"/><rect x="153.47" y="230.6" width="4.5" height="4.8"/><rect x="164.20" y="203.4" width="4.5" height="7.6"/><rect x="174.94" y="201.0" width="4.5" height="1.3"/><rect x="191.04" y="168.1" width="4.5" height="1.3"/><rect x="196.41" y="168.0" width="4.5" height="42.4"/><rect x="201.78" y="210.0" width="4.5" height="19.0"/><rect x="212.52" y="226.4" width="4.5" height="4.0"/><rect x="217.88" y="230.0" width="4.5" height="15.0"/><rect x="223.25" y="245.0" width="4.5" height="2.4"/><rect x="239.36" y="215.0" width="4.5" height="25.6"/><rect x="244.72" y="240.6" width="4.5" height="10.8"/><rect x="255.46" y="244.0" width="4.5" height="11.4"/><rect x="260.83" y="255.4" width="4.5" height="6.2"/><rect x="287.67" y="222.5" width="4.5" height="1.3"/><rect x="293.04" y="221.9" width="4.5" height="1.3"/><rect x="303.77" y="196.0" width="4.5" height="36.6"/><rect x="309.14" y="232.0" width="4.5" height="14.0"/><rect x="314.51" y="245.4" width="4.5" height="18.0"/><rect x="325.24" y="248.6" width="4.5" height="1.3"/><rect x="330.61" y="249.2" width="4.5" height="1.3"/><rect x="335.98" y="249.2" width="4.5" height="1.3"/><rect x="352.08" y="207.6" width="4.5" height="3.4"/><rect x="368.19" y="179.0" width="4.5" height="23.4"/><rect x="384.29" y="168.4" width="4.5" height="17.2"/><rect x="400.40" y="176.8" width="4.5" height="1.3"/><rect x="405.76" y="177.6" width="4.5" height="15.8"/><rect x="411.13" y="193.0" width="4.5" height="3.6"/><rect x="416.50" y="196.6" width="4.5" height="5.4"/><rect x="432.60" y="178.0" width="4.5" height="16.0"/><rect x="437.97" y="194.0" width="4.5" height="12.6"/><rect x="443.34" y="206.0" width="4.5" height="21.4"/><rect x="454.08" y="202.4" width="4.5" height="24.6"/><rect x="459.44" y="227.0" width="4.5" height="8.6"/><rect x="464.81" y="234.6" width="4.5" height="1.3"/><rect x="470.18" y="234.6" width="4.5" height="1.3"/><rect x="475.55" y="236.6" width="4.5" height="1.3"/><rect x="480.92" y="236.1" width="4.5" height="1.3"/><rect x="491.65" y="229.4" width="4.5" height="11.2"/><rect x="502.39" y="226.4" width="4.5" height="9.2"/><rect x="513.12" y="227.5" width="4.5" height="1.3"/><rect x="518.49" y="228.0" width="4.5" height="10.6"/><rect x="523.86" y="238.0" width="4.5" height="2.6"/><rect x="529.23" y="239.2" width="4.5" height="1.3"/><rect x="545.33" y="223.4" width="4.5" height="14.6"/><rect x="556.07" y="235.6" width="4.5" height="2.0"/><rect x="561.44" y="237.4" width="4.5" height="33.2"/><rect x="566.80" y="270.6" width="4.5" height="20.0"/><rect x="572.17" y="290.0" width="4.5" height="31.6"/><rect x="582.91" y="319.0" width="4.5" height="2.4"/><rect x="599.01" y="251.0" width="4.5" height="57.6"/><rect x="615.12" y="277.0" width="4.5" height="5.4"/><rect x="620.48" y="282.0" width="4.5" height="21.6"/><rect x="625.85" y="303.6" width="4.5" height="4.8"/><rect x="631.22" y="308.0" width="4.5" height="38.6"/><rect x="636.59" y="346.6" width="4.5" height="15.4"/><rect x="652.69" y="326.6" width="4.5" height="17.4"/><rect x="668.80" y="322.0" width="4.5" height="12.4"/><rect x="679.53" y="323.0" width="4.5" height="9.6"/><rect x="690.27" y="304.0" width="4.5" height="18.4"/><rect x="695.64" y="322.6" width="4.5" height="1.3"/><rect x="701.00" y="323.6" width="4.5" height="1.4"/><rect x="717.11" y="299.6" width="4.5" height="1.3"/><rect x="722.48" y="300.0" width="4.5" height="2.4"/><rect x="733.21" y="301.0" width="4.5" height="19.6"/><rect x="738.58" y="320.6" width="4.5" height="13.0"/><rect x="743.95" y="333.6" width="4.5" height="1.3"/><rect x="749.32" y="333.9" width="4.5" height="1.3"/><rect x="760.05" y="315.6" width="4.5" height="18.8"/><rect x="776.16" y="324.4" width="4.5" height="2.2"/><rect x="781.52" y="326.6" width="4.5" height="36.0"/><rect x="792.26" y="357.4" width="4.5" height="20.6"/><rect x="803.00" y="333.0" width="4.5" height="21.0"/><rect x="819.10" y="314.4" width="4.5" height="11.2"/><rect x="829.84" y="320.4" width="4.5" height="6.0"/><rect x="845.94" y="317.6" width="4.5" height="2.4"/><rect x="856.68" y="315.1" width="4.5" height="1.3"/><rect x="888.88" y="248.2" width="4.5" height="1.3"/><rect x="894.25" y="249.4" width="4.5" height="5.2"/><rect x="904.99" y="246.4" width="4.5" height="5.0"/><rect x="910.36" y="251.0" width="4.5" height="1.3"/><rect x="926.46" y="233.6" width="4.5" height="6.4"/><rect x="931.83" y="240.0" width="4.5" height="11.4"/><rect x="947.93" y="232.5" width="4.5" height="1.3"/><rect x="958.67" y="188.4" width="4.5" height="2.6"/><rect x="969.40" y="177.4" width="4.5" height="5.0"/><rect x="974.77" y="182.4" width="4.5" height="9.2"/><rect x="985.51" y="183.0" width="4.5" height="4.0"/><rect x="996.24" y="184.4" width="4.5" height="2.6"/><rect x="1001.61" y="186.6" width="4.5" height="2.8"/><rect x="1012.35" y="165.4" width="4.5" height="6.0"/><rect x="1033.82" y="128.6" width="4.5" height="30.8"/><rect x="1055.29" y="145.4" width="4.5" height="3.0"/><rect x="1060.66" y="148.4" width="4.5" height="8.0"/><rect x="1066.03" y="156.4" width="4.5" height="15.6"/><rect x="1071.40" y="171.6" width="4.5" height="12.4"/><rect x="1092.87" y="170.0" width="4.5" height="3.6"/><rect x="1098.24" y="173.6" width="4.5" height="4.4"/><rect x="1103.60" y="178.0" width="4.5" height="22.4"/><rect x="1119.71" y="170.5" width="4.5" height="1.3"/><rect x="1130.44" y="138.1" width="4.5" height="1.3"/><rect x="1135.81" y="138.6" width="4.5" height="12.0"/><rect x="1141.18" y="150.0" width="4.5" height="21.0"/><rect x="1151.92" y="168.4" width="4.5" height="3.6"/><rect x="1157.28" y="171.5" width="4.5" height="1.3"/><rect x="1168.02" y="163.6" width="4.5" height="15.4"/><rect x="1178.76" y="177.4" width="4.5" height="2.2"/><rect x="1184.12" y="178.4" width="4.5" height="10.0"/><rect x="1189.49" y="188.0" width="4.5" height="8.0"/><rect x="1194.86" y="196.0" width="4.5" height="9.4"/><rect x="1216.33" y="159.4" width="4.5" height="3.0"/><rect x="1221.70" y="160.5" width="4.5" height="1.3"/><rect x="1237.80" y="152.0" width="4.5" height="9.4"/><rect x="1243.17" y="161.0" width="4.5" height="9.6"/><rect x="1259.28" y="144.4" width="4.5" height="10.2"/><rect x="1264.64" y="153.9" width="4.5" height="1.3"/><rect x="1275.38" y="146.4" width="4.5" height="6.6"/></g>
<g fill="#fff" stroke="#0c0e15" stroke-width="1.2"><rect x="19.87" y="275.2" width="3.3" height="24.7"/><rect x="35.97" y="278.6" width="3.3" height="3.8"/><rect x="41.34" y="266.1" width="3.3" height="11.3"/><rect x="46.71" y="251.6" width="3.3" height="12.8"/><rect x="52.08" y="222.6" width="3.3" height="27.8"/><rect x="57.44" y="219.4" width="3.3" height="2.1"/><rect x="68.18" y="225.9" width="3.3" height="2.1"/><rect x="84.28" y="240.6" width="3.3" height="26.8"/><rect x="95.02" y="229.2" width="3.3" height="12.6"/><rect x="105.76" y="231.0" width="3.3" height="4.8"/><rect x="121.86" y="221.2" width="3.3" height="18.2"/><rect x="132.60" y="213.6" width="3.3" height="18.4"/><rect x="143.33" y="203.6" width="3.3" height="7.8"/><rect x="159.44" y="203.6" width="3.3" height="31.2"/><rect x="170.17" y="202.2" width="3.3" height="8.2"/><rect x="180.91" y="180.2" width="3.3" height="20.2"/><rect x="186.28" y="169.0" width="3.3" height="10.0"/><rect x="207.75" y="226.1" width="3.3" height="2.1"/><rect x="229.22" y="221.2" width="3.3" height="25.6"/><rect x="234.59" y="215.6" width="3.3" height="4.4"/><rect x="250.69" y="244.6" width="3.3" height="6.2"/><rect x="266.80" y="257.2" width="3.3" height="4.6"/><rect x="272.16" y="250.2" width="3.3" height="5.8"/><rect x="277.53" y="233.0" width="3.3" height="16.0"/><rect x="282.90" y="224.6" width="3.3" height="7.2"/><rect x="299.00" y="196.6" width="3.3" height="25.8"/><rect x="320.48" y="249.6" width="3.3" height="13.2"/><rect x="341.95" y="236.2" width="3.3" height="12.8"/><rect x="347.32" y="208.2" width="3.3" height="26.8"/><rect x="358.05" y="183.0" width="3.3" height="27.4"/><rect x="363.42" y="179.6" width="3.3" height="2.2"/><rect x="374.16" y="195.6" width="3.3" height="6.2"/><rect x="379.52" y="169.0" width="3.3" height="25.4"/><rect x="390.26" y="182.9" width="3.3" height="2.1"/><rect x="395.63" y="178.0" width="3.3" height="4.4"/><rect x="422.47" y="186.2" width="3.3" height="15.2"/><rect x="427.84" y="178.6" width="3.3" height="6.4"/><rect x="449.31" y="203.0" width="3.3" height="23.8"/><rect x="486.88" y="230.0" width="3.3" height="6.0"/><rect x="497.62" y="227.0" width="3.3" height="13.0"/><rect x="508.36" y="229.2" width="3.3" height="5.8"/><rect x="535.20" y="236.0" width="3.3" height="4.8"/><rect x="540.56" y="224.0" width="3.3" height="10.8"/><rect x="551.30" y="235.6" width="3.3" height="2.1"/><rect x="578.14" y="319.2" width="3.3" height="2.1"/><rect x="588.88" y="310.0" width="3.3" height="10.8"/><rect x="594.24" y="251.6" width="3.3" height="57.2"/><rect x="604.98" y="301.2" width="3.3" height="6.6"/><rect x="610.35" y="278.0" width="3.3" height="21.4"/><rect x="642.56" y="332.0" width="3.3" height="29.4"/><rect x="647.92" y="327.6" width="3.3" height="3.2"/><rect x="658.66" y="324.2" width="3.3" height="19.6"/><rect x="664.03" y="321.8" width="3.3" height="2.1"/><rect x="674.76" y="323.6" width="3.3" height="10.2"/><rect x="685.50" y="304.2" width="3.3" height="27.8"/><rect x="706.97" y="310.2" width="3.3" height="14.6"/><rect x="712.34" y="300.2" width="3.3" height="8.8"/><rect x="728.44" y="300.8" width="3.3" height="2.1"/><rect x="755.28" y="316.2" width="3.3" height="17.6"/><rect x="766.02" y="330.0" width="3.3" height="3.8"/><rect x="771.39" y="325.0" width="3.3" height="3.8"/><rect x="787.49" y="358.6" width="3.3" height="3.4"/><rect x="798.23" y="334.0" width="3.3" height="44.0"/><rect x="808.96" y="329.0" width="3.3" height="24.4"/><rect x="814.33" y="315.0" width="3.3" height="12.8"/><rect x="825.07" y="321.0" width="3.3" height="4.0"/><rect x="835.80" y="323.8" width="3.3" height="2.1"/><rect x="841.17" y="318.6" width="3.3" height="4.4"/><rect x="851.91" y="317.6" width="3.3" height="2.4"/><rect x="862.64" y="300.2" width="3.3" height="14.6"/><rect x="868.01" y="258.0" width="3.3" height="41.4"/><rect x="873.38" y="255.4" width="3.3" height="2.1"/><rect x="878.75" y="253.4" width="3.3" height="2.1"/><rect x="884.12" y="249.2" width="3.3" height="3.8"/><rect x="900.22" y="247.0" width="3.3" height="7.0"/><rect x="916.32" y="236.6" width="3.3" height="15.2"/><rect x="921.69" y="233.8" width="3.3" height="2.1"/><rect x="937.80" y="248.9" width="3.3" height="2.1"/><rect x="943.16" y="234.2" width="3.3" height="13.6"/><rect x="953.90" y="188.6" width="3.3" height="43.2"/><rect x="964.64" y="178.0" width="3.3" height="11.8"/><rect x="980.74" y="183.0" width="3.3" height="8.0"/><rect x="991.48" y="184.6" width="3.3" height="2.1"/><rect x="1007.58" y="166.0" width="3.3" height="22.8"/><rect x="1018.32" y="163.0" width="3.3" height="8.0"/><rect x="1023.68" y="144.0" width="3.3" height="18.4"/><rect x="1029.05" y="129.2" width="3.3" height="13.8"/><rect x="1039.79" y="156.9" width="3.3" height="2.1"/><rect x="1045.16" y="148.0" width="3.3" height="8.0"/><rect x="1050.52" y="145.5" width="3.3" height="2.1"/><rect x="1077.36" y="179.6" width="3.3" height="3.4"/><rect x="1082.73" y="172.6" width="3.3" height="5.8"/><rect x="1088.10" y="169.5" width="3.3" height="2.1"/><rect x="1109.57" y="181.2" width="3.3" height="18.6"/><rect x="1114.94" y="172.0" width="3.3" height="8.0"/><rect x="1125.68" y="139.2" width="3.3" height="31.2"/><rect x="1147.15" y="168.4" width="3.3" height="2.1"/><rect x="1163.25" y="164.2" width="3.3" height="7.2"/><rect x="1173.99" y="177.1" width="3.3" height="2.1"/><rect x="1200.83" y="174.6" width="3.3" height="29.8"/><rect x="1206.20" y="169.0" width="3.3" height="4.4"/><rect x="1211.56" y="160.0" width="3.3" height="7.8"/><rect x="1227.67" y="159.8" width="3.3" height="2.1"/><rect x="1233.04" y="152.6" width="3.3" height="6.8"/><rect x="1249.14" y="149.2" width="3.3" height="21.2"/><rect x="1254.51" y="145.0" width="3.3" height="3.0"/><rect x="1270.61" y="147.0" width="3.3" height="6.8"/><rect x="1281.35" y="149.2" width="3.3" height="3.8"/><rect x="1286.72" y="134.8" width="3.3" height="12.6"/></g>
</g>
<g clip-path="url(#cr)">
<defs><linearGradient id="gob" gradientUnits="userSpaceOnUse" x1="0" y1="403.5" x2="0" y2="438"><stop offset="0" stop-color="#4caf50" stop-opacity="1"/><stop offset="1" stop-color="#4caf50" stop-opacity="0"/></linearGradient><linearGradient id="gos" gradientUnits="userSpaceOnUse" x1="0" y1="484.2" x2="0" y2="518.7"><stop offset="0" stop-color="#ff5252" stop-opacity="0"/><stop offset="1" stop-color="#ff5252" stop-opacity="1"/></linearGradient><clipPath id="cob"><rect x="0" y="414" width="1600" height="24"/></clipPath><clipPath id="cos"><rect x="0" y="484.2" width="1600" height="16"/></clipPath></defs>
<g clip-path="url(#cob)"><path d="M10.8 420.3L16.1 431.4L21.5 427.9L26.9 429.0L32.3 431.4L37.6 430.8L43.0 428.8L48.4 426.8L53.7 423.3L59.1 422.9L64.5 427.8L69.8 427.5L75.2 444.0L80.6 447.0L85.9 440.9L91.3 441.9L96.7 439.1L102.0 442.3L107.4 441.1L112.8 445.7L118.1 445.4L123.5 440.7L128.9 446.2L134.2 441.5L139.6 440.9L145.0 439.1L150.4 451.5L155.7 453.4L161.1 444.9L166.5 448.1L171.8 445.7L177.2 445.9L182.6 440.6L187.9 438.2L193.3 438.2L198.7 455.6L204.0 461.5L209.4 460.5L214.8 462.0L220.1 466.5L225.5 467.2L230.9 458.0L236.2 456.3L241.6 464.7L247.0 467.8L252.3 465.1L257.7 468.5L263.1 470.3L268.4 468.3L273.8 465.5L279.2 459.1L284.6 456.2L289.9 455.7L295.3 455.5L300.7 447.0L306.0 461.2L311.4 465.4L316.8 470.3L322.1 465.2L327.5 465.3L332.9 465.5L338.2 465.5L343.6 459.8L349.0 450.7L354.3 452.1L359.7 444.4L365.1 443.6L370.4 453.2L375.8 451.1L381.2 444.5L386.5 451.0L391.9 450.4L397.3 448.9L402.6 448.9L408.0 455.5L413.4 456.8L418.8 459.0L424.1 453.2L429.5 450.8L434.9 457.6L440.2 462.3L445.6 469.2L451.0 460.2L456.3 467.6L461.7 469.9L467.1 469.8L472.4 469.8L477.8 470.5L483.2 469.9L488.5 466.7L493.9 470.8L499.3 464.2L504.6 467.7L510.0 464.5L515.4 464.0L520.7 468.5L526.1 469.3L531.5 469.0L536.8 466.3L542.2 459.9L547.6 466.8L553.0 465.4L558.3 466.5L563.7 479.1L569.1 484.4L574.4 490.8L579.8 489.3L585.2 489.8L590.5 482.9L595.9 459.5L601.3 473.6L606.6 471.1L612.0 464.6L617.4 465.8L622.7 470.6L628.1 471.6L633.5 479.0L638.8 481.5L644.2 472.1L649.6 470.9L654.9 474.3L660.3 468.3L665.7 467.8L671.0 470.6L676.4 467.2L681.8 469.5L687.1 461.1L692.5 465.8L697.9 466.0L703.3 466.4L708.6 461.6L714.0 458.7L719.4 458.9L724.7 459.6L730.1 459.1L735.5 466.0L740.8 470.0L746.2 470.2L751.6 470.0L756.9 462.2L762.3 468.7L767.7 466.6L773.0 464.5L778.4 465.3L783.8 476.7L789.1 474.6L794.5 479.8L799.9 462.9L805.2 468.4L810.6 460.8L816.0 457.1L821.4 460.4L826.7 458.9L832.1 460.8L837.5 459.9L842.8 458.1L848.2 458.8L853.6 457.8L858.9 457.1L864.3 451.6L869.7 440.5L875.0 440.1L880.4 439.6L885.8 438.5L891.1 438.8L896.5 441.9L901.9 439.7L907.2 442.6L912.6 442.9L918.0 438.1L923.3 437.5L928.7 441.7L934.1 448.8L939.4 447.7L944.8 442.4L950.2 442.0L955.6 430.8L960.9 432.6L966.3 430.0L971.7 433.1L977.0 438.6L982.4 436.3L987.8 439.1L993.1 438.4L998.5 440.1L1003.9 441.7L1009.2 434.7L1014.6 438.7L1020.0 436.2L1025.3 431.7L1030.7 428.7L1036.1 445.7L1041.4 444.9L1046.8 442.4L1052.2 441.9L1057.5 443.5L1062.9 448.0L1068.3 455.8L1073.6 461.1L1079.0 459.0L1084.4 456.1L1089.8 455.1L1095.1 457.2L1100.5 459.5L1105.9 469.5L1111.2 460.3L1116.6 456.6L1122.0 456.3L1127.3 445.4L1132.7 445.2L1138.1 451.5L1143.4 460.2L1148.8 459.2L1154.2 460.8L1159.5 460.6L1164.9 457.1L1170.3 464.0L1175.6 463.3L1181.0 464.3L1186.4 468.2L1191.7 471.4L1197.1 475.1L1202.5 459.4L1207.8 457.2L1213.2 453.7L1218.6 455.1L1224.0 454.4L1229.3 454.1L1234.7 450.6L1240.1 456.1L1245.4 461.0L1250.8 451.3L1256.2 449.7L1261.5 455.3L1266.9 455.0L1272.3 451.7L1277.6 455.5L1283.0 453.4L1288.4 447.3L1288.4 438L10.8 438Z" fill="url(#gob)"/></g>
<g clip-path="url(#cos)"><path d="M10.8 420.3L16.1 431.4L21.5 427.9L26.9 429.0L32.3 431.4L37.6 430.8L43.0 428.8L48.4 426.8L53.7 423.3L59.1 422.9L64.5 427.8L69.8 427.5L75.2 444.0L80.6 447.0L85.9 440.9L91.3 441.9L96.7 439.1L102.0 442.3L107.4 441.1L112.8 445.7L118.1 445.4L123.5 440.7L128.9 446.2L134.2 441.5L139.6 440.9L145.0 439.1L150.4 451.5L155.7 453.4L161.1 444.9L166.5 448.1L171.8 445.7L177.2 445.9L182.6 440.6L187.9 438.2L193.3 438.2L198.7 455.6L204.0 461.5L209.4 460.5L214.8 462.0L220.1 466.5L225.5 467.2L230.9 458.0L236.2 456.3L241.6 464.7L247.0 467.8L252.3 465.1L257.7 468.5L263.1 470.3L268.4 468.3L273.8 465.5L279.2 459.1L284.6 456.2L289.9 455.7L295.3 455.5L300.7 447.0L306.0 461.2L311.4 465.4L316.8 470.3L322.1 465.2L327.5 465.3L332.9 465.5L338.2 465.5L343.6 459.8L349.0 450.7L354.3 452.1L359.7 444.4L365.1 443.6L370.4 453.2L375.8 451.1L381.2 444.5L386.5 451.0L391.9 450.4L397.3 448.9L402.6 448.9L408.0 455.5L413.4 456.8L418.8 459.0L424.1 453.2L429.5 450.8L434.9 457.6L440.2 462.3L445.6 469.2L451.0 460.2L456.3 467.6L461.7 469.9L467.1 469.8L472.4 469.8L477.8 470.5L483.2 469.9L488.5 466.7L493.9 470.8L499.3 464.2L504.6 467.7L510.0 464.5L515.4 464.0L520.7 468.5L526.1 469.3L531.5 469.0L536.8 466.3L542.2 459.9L547.6 466.8L553.0 465.4L558.3 466.5L563.7 479.1L569.1 484.4L574.4 490.8L579.8 489.3L585.2 489.8L590.5 482.9L595.9 459.5L601.3 473.6L606.6 471.1L612.0 464.6L617.4 465.8L622.7 470.6L628.1 471.6L633.5 479.0L638.8 481.5L644.2 472.1L649.6 470.9L654.9 474.3L660.3 468.3L665.7 467.8L671.0 470.6L676.4 467.2L681.8 469.5L687.1 461.1L692.5 465.8L697.9 466.0L703.3 466.4L708.6 461.6L714.0 458.7L719.4 458.9L724.7 459.6L730.1 459.1L735.5 466.0L740.8 470.0L746.2 470.2L751.6 470.0L756.9 462.2L762.3 468.7L767.7 466.6L773.0 464.5L778.4 465.3L783.8 476.7L789.1 474.6L794.5 479.8L799.9 462.9L805.2 468.4L810.6 460.8L816.0 457.1L821.4 460.4L826.7 458.9L832.1 460.8L837.5 459.9L842.8 458.1L848.2 458.8L853.6 457.8L858.9 457.1L864.3 451.6L869.7 440.5L875.0 440.1L880.4 439.6L885.8 438.5L891.1 438.8L896.5 441.9L901.9 439.7L907.2 442.6L912.6 442.9L918.0 438.1L923.3 437.5L928.7 441.7L934.1 448.8L939.4 447.7L944.8 442.4L950.2 442.0L955.6 430.8L960.9 432.6L966.3 430.0L971.7 433.1L977.0 438.6L982.4 436.3L987.8 439.1L993.1 438.4L998.5 440.1L1003.9 441.7L1009.2 434.7L1014.6 438.7L1020.0 436.2L1025.3 431.7L1030.7 428.7L1036.1 445.7L1041.4 444.9L1046.8 442.4L1052.2 441.9L1057.5 443.5L1062.9 448.0L1068.3 455.8L1073.6 461.1L1079.0 459.0L1084.4 456.1L1089.8 455.1L1095.1 457.2L1100.5 459.5L1105.9 469.5L1111.2 460.3L1116.6 456.6L1122.0 456.3L1127.3 445.4L1132.7 445.2L1138.1 451.5L1143.4 460.2L1148.8 459.2L1154.2 460.8L1159.5 460.6L1164.9 457.1L1170.3 464.0L1175.6 463.3L1181.0 464.3L1186.4 468.2L1191.7 471.4L1197.1 475.1L1202.5 459.4L1207.8 457.2L1213.2 453.7L1218.6 455.1L1224.0 454.4L1229.3 454.1L1234.7 450.6L1240.1 456.1L1245.4 461.0L1250.8 451.3L1256.2 449.7L1261.5 455.3L1266.9 455.0L1272.3 451.7L1277.6 455.5L1283.0 453.4L1288.4 447.3L1288.4 484.2L10.8 484.2Z" fill="url(#gos)"/></g>
<path d="M10.8 435.1L16.1 434.5L21.5 433.4L26.9 432.3L32.3 431.2L37.6 429.7L43.0 428.4L48.4 427.9L53.7 427.2L59.1 426.6L64.5 426.3L69.8 426.4L75.2 428.1L80.6 429.9L85.9 431.4L91.3 432.1L96.7 432.9L102.0 433.9L107.4 434.6L112.8 435.6L118.1 436.8L123.5 437.8L128.9 439.5L134.2 440.8L139.6 441.7L145.0 442.6L150.4 443.1L155.7 443.5L161.1 443.8L166.5 444.3L171.8 444.7L177.2 445.0L182.6 445.0L187.9 444.4L193.3 443.9L198.7 445.0L204.0 446.1L209.4 447.4L214.8 448.9L220.1 450.9L225.5 452.0L230.9 452.4L236.2 453.2L241.6 454.4L247.0 455.9L252.3 457.3L257.7 459.3L263.1 461.6L268.4 463.7L273.8 464.4L279.2 464.3L284.6 464.0L289.9 463.5L295.3 462.7L300.7 461.3L306.0 461.5L311.4 462.2L316.8 462.6L322.1 462.4L327.5 462.4L332.9 462.2L338.2 461.9L343.6 461.2L349.0 460.2L354.3 459.7L359.7 458.8L365.1 458.0L370.4 457.8L375.8 458.1L381.2 456.9L386.5 455.9L391.9 454.5L397.3 453.3L402.6 452.1L408.0 451.4L413.4 450.8L418.8 450.7L424.1 450.9L429.5 450.8L434.9 451.7L440.2 453.1L445.6 454.2L451.0 454.9L456.3 456.5L461.7 457.9L467.1 459.3L472.4 460.8L477.8 462.3L483.2 463.3L488.5 464.0L493.9 464.9L499.3 465.7L504.6 466.9L510.0 467.4L515.4 467.5L520.7 467.5L526.1 468.1L531.5 468.2L536.8 467.9L542.2 467.2L547.6 467.0L553.0 466.7L558.3 466.4L563.7 467.3L569.1 468.3L574.4 470.2L579.8 471.7L585.2 473.5L590.5 474.9L595.9 474.2L601.3 474.5L606.6 474.7L612.0 474.6L617.4 475.0L622.7 475.2L628.1 475.7L633.5 476.6L638.8 476.7L644.2 475.9L649.6 474.5L654.9 473.4L660.3 471.8L665.7 470.8L671.0 471.6L676.4 471.1L681.8 471.0L687.1 470.7L692.5 470.7L697.9 470.4L703.3 470.0L708.6 468.8L714.0 467.2L719.4 466.2L724.7 465.4L730.1 464.3L735.5 464.2L740.8 464.3L746.2 464.3L751.6 464.5L756.9 464.0L762.3 464.5L767.7 464.6L773.0 464.5L778.4 464.4L783.8 465.5L789.1 466.6L794.5 468.1L799.9 468.3L805.2 469.0L810.6 468.6L816.0 467.7L821.4 467.0L826.7 466.2L832.1 466.1L837.5 465.5L842.8 464.9L848.2 464.5L853.6 463.9L858.9 462.5L864.3 460.9L869.7 458.1L875.0 456.5L880.4 454.4L885.8 452.8L891.1 451.5L896.5 450.2L901.9 448.8L907.2 447.5L912.6 446.3L918.0 444.9L923.3 443.3L928.7 442.2L934.1 441.6L939.4 441.3L944.8 441.4L950.2 441.6L955.6 441.0L960.9 440.5L966.3 439.9L971.7 439.3L977.0 439.2L982.4 438.7L987.8 438.5L993.1 438.5L998.5 438.7L1003.9 438.7L1009.2 437.7L1014.6 437.0L1020.0 436.6L1025.3 435.9L1030.7 435.7L1036.1 436.6L1041.4 437.7L1046.8 438.4L1052.2 438.6L1057.5 439.1L1062.9 439.8L1068.3 441.0L1073.6 442.5L1079.0 443.7L1084.4 445.3L1089.8 446.4L1095.1 447.9L1100.5 449.9L1105.9 452.8L1111.2 453.9L1116.6 454.7L1122.0 455.7L1127.3 456.0L1132.7 456.1L1138.1 456.3L1143.4 456.7L1148.8 456.5L1154.2 456.6L1159.5 457.0L1164.9 457.1L1170.3 457.6L1175.6 457.9L1181.0 457.5L1186.4 458.0L1191.7 459.1L1197.1 460.4L1202.5 461.5L1207.8 462.3L1213.2 462.5L1218.6 462.1L1224.0 461.7L1229.3 461.3L1234.7 460.6L1240.1 460.5L1245.4 460.3L1250.8 459.4L1256.2 458.4L1261.5 457.5L1266.9 456.3L1272.3 454.6L1277.6 454.3L1283.0 454.1L1288.4 453.6" stroke="#fbd02f" stroke-width="1.5" fill="none" stroke-linejoin="round" stroke-linecap="round"/>
<path d="M10.8 420.3L16.1 431.4L21.5 427.9L26.9 429.0L32.3 431.4L37.6 430.8L43.0 428.8L48.4 426.8L53.7 423.3L59.1 422.9L64.5 427.8L69.8 427.5L75.2 444.0L80.6 447.0L85.9 440.9L91.3 441.9L96.7 439.1L102.0 442.3L107.4 441.1L112.8 445.7L118.1 445.4L123.5 440.7L128.9 446.2L134.2 441.5L139.6 440.9L145.0 439.1L150.4 451.5L155.7 453.4L161.1 444.9L166.5 448.1L171.8 445.7L177.2 445.9L182.6 440.6L187.9 438.2L193.3 438.2L198.7 455.6L204.0 461.5L209.4 460.5L214.8 462.0L220.1 466.5L225.5 467.2L230.9 458.0L236.2 456.3L241.6 464.7L247.0 467.8L252.3 465.1L257.7 468.5L263.1 470.3L268.4 468.3L273.8 465.5L279.2 459.1L284.6 456.2L289.9 455.7L295.3 455.5L300.7 447.0L306.0 461.2L311.4 465.4L316.8 470.3L322.1 465.2L327.5 465.3L332.9 465.5L338.2 465.5L343.6 459.8L349.0 450.7L354.3 452.1L359.7 444.4L365.1 443.6L370.4 453.2L375.8 451.1L381.2 444.5L386.5 451.0L391.9 450.4L397.3 448.9L402.6 448.9L408.0 455.5L413.4 456.8L418.8 459.0L424.1 453.2L429.5 450.8L434.9 457.6L440.2 462.3L445.6 469.2L451.0 460.2L456.3 467.6L461.7 469.9L467.1 469.8L472.4 469.8L477.8 470.5L483.2 469.9L488.5 466.7L493.9 470.8L499.3 464.2L504.6 467.7L510.0 464.5L515.4 464.0L520.7 468.5L526.1 469.3L531.5 469.0L536.8 466.3L542.2 459.9L547.6 466.8L553.0 465.4L558.3 466.5L563.7 479.1L569.1 484.4L574.4 490.8L579.8 489.3L585.2 489.8L590.5 482.9L595.9 459.5L601.3 473.6L606.6 471.1L612.0 464.6L617.4 465.8L622.7 470.6L628.1 471.6L633.5 479.0L638.8 481.5L644.2 472.1L649.6 470.9L654.9 474.3L660.3 468.3L665.7 467.8L671.0 470.6L676.4 467.2L681.8 469.5L687.1 461.1L692.5 465.8L697.9 466.0L703.3 466.4L708.6 461.6L714.0 458.7L719.4 458.9L724.7 459.6L730.1 459.1L735.5 466.0L740.8 470.0L746.2 470.2L751.6 470.0L756.9 462.2L762.3 468.7L767.7 466.6L773.0 464.5L778.4 465.3L783.8 476.7L789.1 474.6L794.5 479.8L799.9 462.9L805.2 468.4L810.6 460.8L816.0 457.1L821.4 460.4L826.7 458.9L832.1 460.8L837.5 459.9L842.8 458.1L848.2 458.8L853.6 457.8L858.9 457.1L864.3 451.6L869.7 440.5L875.0 440.1L880.4 439.6L885.8 438.5L891.1 438.8L896.5 441.9L901.9 439.7L907.2 442.6L912.6 442.9L918.0 438.1L923.3 437.5L928.7 441.7L934.1 448.8L939.4 447.7L944.8 442.4L950.2 442.0L955.6 430.8L960.9 432.6L966.3 430.0L971.7 433.1L977.0 438.6L982.4 436.3L987.8 439.1L993.1 438.4L998.5 440.1L1003.9 441.7L1009.2 434.7L1014.6 438.7L1020.0 436.2L1025.3 431.7L1030.7 428.7L1036.1 445.7L1041.4 444.9L1046.8 442.4L1052.2 441.9L1057.5 443.5L1062.9 448.0L1068.3 455.8L1073.6 461.1L1079.0 459.0L1084.4 456.1L1089.8 455.1L1095.1 457.2L1100.5 459.5L1105.9 469.5L1111.2 460.3L1116.6 456.6L1122.0 456.3L1127.3 445.4L1132.7 445.2L1138.1 451.5L1143.4 460.2L1148.8 459.2L1154.2 460.8L1159.5 460.6L1164.9 457.1L1170.3 464.0L1175.6 463.3L1181.0 464.3L1186.4 468.2L1191.7 471.4L1197.1 475.1L1202.5 459.4L1207.8 457.2L1213.2 453.7L1218.6 455.1L1224.0 454.4L1229.3 454.1L1234.7 450.6L1240.1 456.1L1245.4 461.0L1250.8 451.3L1256.2 449.7L1261.5 455.3L1266.9 455.0L1272.3 451.7L1277.6 455.5L1283.0 453.4L1288.4 447.3" stroke="#7e57c2" stroke-width="1.5" fill="none" stroke-linejoin="round" stroke-linecap="round"/>
</g>
<g clip-path="url(#cs)">
<path d="M10.8 513.1L16.1 520.0L21.5 511.7L26.9 512.5L32.3 514.1L37.6 513.0L43.0 510.8L48.4 508.2L53.7 507.9L59.1 508.4L64.5 511.8L69.8 511.9L75.2 533.8L80.6 540.7L85.9 524.0L91.3 526.4L96.7 518.4L102.0 524.3L107.4 520.6L112.8 531.7L118.1 531.9L123.5 513.3L128.9 538.5L134.2 526.1L139.6 524.6L145.0 519.8L150.4 537.2L155.7 540.2L161.1 519.8L166.5 524.8L171.8 518.9L177.2 519.1L182.6 509.5L187.9 512.5L193.3 514.3L198.7 534.5L204.0 553.0L209.4 545.8L214.8 548.1L220.1 555.9L225.5 557.2L230.9 542.9L236.2 540.0L241.6 553.5L247.0 559.3L252.3 555.3L257.7 561.4L263.1 562.2L268.4 558.8L273.8 551.0L279.2 528.3L284.6 519.7L289.9 518.3L295.3 517.7L300.7 508.1L306.0 537.7L311.4 548.0L316.8 561.4L322.1 550.3L327.5 550.7L332.9 551.1L338.2 543.4L343.6 534.2L349.0 516.4L354.3 518.6L359.7 512.9L365.1 511.1L370.4 524.6L375.8 528.1L381.2 516.9L386.5 524.1L391.9 523.1L397.3 520.7L402.6 520.8L408.0 527.4L413.4 536.4L418.8 544.4L424.1 536.0L429.5 531.4L434.9 543.0L440.2 552.2L445.6 559.8L451.0 529.3L456.3 542.3L461.7 547.0L467.1 546.9L472.4 546.0L477.8 547.2L483.2 546.5L488.5 542.7L493.9 549.0L499.3 541.0L504.6 545.4L510.0 534.5L515.4 532.9L520.7 541.3L526.1 553.2L531.5 545.1L536.8 539.2L542.2 523.8L547.6 540.3L553.0 536.6L558.3 539.7L563.7 566.5L569.1 555.1L574.4 559.6L579.8 558.3L585.2 549.5L590.5 544.7L595.9 521.3L601.3 544.3L606.6 541.1L612.0 531.9L617.4 533.9L622.7 539.0L628.1 540.6L633.5 558.3L638.8 563.1L644.2 546.1L649.6 544.0L654.9 552.0L660.3 542.4L665.7 541.5L671.0 547.1L676.4 539.0L681.8 544.1L687.1 528.7L692.5 535.7L697.9 525.8L703.3 527.0L708.6 514.9L714.0 513.3L719.4 516.7L724.7 518.7L730.1 518.5L735.5 540.9L740.8 555.5L746.2 556.4L751.6 555.9L756.9 535.8L762.3 557.3L767.7 551.6L773.0 545.9L778.4 548.4L783.8 560.5L789.1 547.2L794.5 559.4L799.9 532.0L805.2 544.6L810.6 528.9L816.0 520.3L821.4 527.2L826.7 524.0L832.1 527.6L837.5 518.9L842.8 514.9L848.2 516.3L853.6 514.1L858.9 512.8L864.3 510.7L869.7 508.2L875.0 510.5L880.4 509.4L885.8 511.3L891.1 511.6L896.5 515.5L901.9 509.9L907.2 513.3L912.6 514.0L918.0 510.9L923.3 511.2L928.7 515.1L934.1 523.4L939.4 524.6L944.8 517.0L950.2 515.6L955.6 511.7L960.9 514.2L966.3 507.5L971.7 511.0L977.0 521.0L982.4 514.9L987.8 518.4L993.1 516.7L998.5 518.4L1003.9 520.1L1009.2 507.4L1014.6 513.0L1020.0 509.0L1025.3 511.6L1030.7 507.7L1036.1 531.1L1041.4 529.0L1046.8 522.0L1052.2 521.7L1057.5 523.9L1062.9 530.5L1068.3 545.4L1073.6 555.8L1079.0 551.5L1084.4 545.4L1089.8 547.7L1095.1 551.6L1100.5 555.9L1105.9 561.1L1111.2 543.9L1116.6 536.2L1122.0 535.5L1127.3 508.7L1132.7 507.5L1138.1 518.1L1143.4 535.4L1148.8 533.2L1154.2 536.2L1159.5 535.9L1164.9 529.1L1170.3 542.2L1175.6 540.8L1181.0 544.9L1186.4 560.6L1191.7 559.0L1197.1 554.2L1202.5 531.9L1207.8 528.0L1213.2 515.6L1218.6 518.0L1224.0 516.6L1229.3 516.1L1234.7 509.7L1240.1 516.3L1245.4 523.8L1250.8 511.4L1256.2 512.0L1261.5 519.1L1266.9 518.7L1272.3 514.3L1277.6 530.2L1283.0 525.7L1288.4 516.3" stroke="#2962ff" stroke-width="1.5" fill="none" stroke-linejoin="round" stroke-linecap="round"/>
<path d="M10.8 511.1L16.1 514.9L21.5 514.9L26.9 514.8L32.3 512.8L37.6 513.2L43.0 512.6L48.4 510.6L53.7 509.0L59.1 508.2L64.5 509.4L69.8 510.7L75.2 519.2L80.6 528.8L85.9 532.8L91.3 530.4L96.7 522.9L102.0 523.0L107.4 521.1L112.8 525.5L118.1 528.1L123.5 525.6L128.9 527.9L134.2 526.0L139.6 529.7L145.0 523.5L150.4 527.2L155.7 532.4L161.1 532.4L166.5 528.3L171.8 521.2L177.2 520.9L182.6 515.9L187.9 513.7L193.3 512.1L198.7 520.4L204.0 533.9L209.4 544.4L214.8 549.0L220.1 549.9L225.5 553.7L230.9 552.0L236.2 546.7L241.6 545.5L247.0 550.9L252.3 556.1L257.7 558.7L263.1 559.7L268.4 560.8L273.8 557.3L279.2 546.0L284.6 533.0L289.9 522.1L295.3 518.6L300.7 514.7L306.0 521.2L311.4 531.3L316.8 549.1L322.1 553.3L327.5 554.1L332.9 550.7L338.2 548.4L343.6 542.9L349.0 531.3L354.3 523.1L359.7 516.0L365.1 514.2L370.4 516.2L375.8 521.3L381.2 523.2L386.5 523.1L391.9 521.4L397.3 522.6L402.6 521.5L408.0 523.0L413.4 528.2L418.8 536.1L424.1 538.9L429.5 537.3L434.9 536.8L440.2 542.2L445.6 551.6L451.0 547.1L456.3 543.8L461.7 539.5L467.1 545.4L472.4 546.6L477.8 546.7L483.2 546.6L488.5 545.4L493.9 546.0L499.3 544.2L504.6 545.1L510.0 540.3L515.4 537.6L520.7 536.2L526.1 542.5L531.5 546.6L536.8 545.9L542.2 536.0L547.6 534.4L553.0 533.6L558.3 538.9L563.7 547.6L569.1 553.8L574.4 560.4L579.8 557.7L585.2 555.8L590.5 550.8L595.9 538.5L601.3 536.8L606.6 535.6L612.0 539.1L617.4 535.6L622.7 534.9L628.1 537.8L633.5 546.0L638.8 554.0L644.2 555.8L649.6 551.0L654.9 547.3L660.3 546.1L665.7 545.3L671.0 543.6L676.4 542.5L681.8 543.4L687.1 537.3L692.5 536.2L697.9 530.1L703.3 529.5L708.6 522.6L714.0 518.4L719.4 515.0L724.7 516.2L730.1 518.0L735.5 526.0L740.8 538.3L746.2 550.9L751.6 555.9L756.9 549.4L762.3 549.7L767.7 548.3L773.0 551.6L778.4 548.6L783.8 551.6L789.1 552.0L794.5 555.7L799.9 546.2L805.2 545.3L810.6 535.1L816.0 531.3L821.4 525.4L826.7 523.8L832.1 526.3L837.5 523.5L842.8 520.5L848.2 516.7L853.6 515.1L858.9 514.4L864.3 512.5L869.7 510.6L875.0 509.8L880.4 509.4L885.8 510.4L891.1 510.8L896.5 512.8L901.9 512.4L907.2 512.9L912.6 512.4L918.0 512.8L923.3 512.0L928.7 512.4L934.1 516.6L939.4 521.0L944.8 521.7L950.2 519.0L955.6 514.8L960.9 513.8L966.3 511.1L971.7 510.9L977.0 513.2L982.4 515.6L987.8 518.1L993.1 516.7L998.5 517.9L1003.9 518.4L1009.2 515.3L1014.6 513.5L1020.0 509.8L1025.3 511.2L1030.7 509.5L1036.1 516.8L1041.4 522.6L1046.8 527.4L1052.2 524.2L1057.5 522.5L1062.9 525.4L1068.3 533.3L1073.6 543.9L1079.0 550.9L1084.4 550.9L1089.8 548.2L1095.1 548.2L1100.5 551.7L1105.9 556.2L1111.2 553.6L1116.6 547.0L1122.0 538.5L1127.3 526.8L1132.7 517.2L1138.1 511.4L1143.4 520.3L1148.8 528.9L1154.2 534.9L1159.5 535.1L1164.9 533.8L1170.3 535.7L1175.6 537.4L1181.0 542.6L1186.4 548.8L1191.7 554.8L1197.1 557.9L1202.5 548.4L1207.8 538.0L1213.2 525.2L1218.6 520.5L1224.0 516.7L1229.3 516.9L1234.7 514.1L1240.1 514.0L1245.4 516.6L1250.8 517.2L1256.2 515.7L1261.5 514.2L1266.9 516.6L1272.3 517.4L1277.6 521.1L1283.0 523.4L1288.4 524.1" stroke="#ff6d00" stroke-width="1.6" fill="none" stroke-linejoin="round" stroke-linecap="round"/>
</g>
<line x1="13.5" y1="438" x2="1482.5" y2="438" stroke="#868993" stroke-opacity="1" stroke-width="1" stroke-dasharray="4.5 5.3"/>
<line x1="13.5" y1="461" x2="1482.5" y2="461" stroke="#868993" stroke-opacity="0.5" stroke-width="1" stroke-dasharray="4.5 5.3"/>
<line x1="13.5" y1="484.2" x2="1482.5" y2="484.2" stroke="#868993" stroke-opacity="1" stroke-width="1" stroke-dasharray="4.5 5.3"/>
<line x1="13.5" y1="519" x2="1482.5" y2="519" stroke="#868993" stroke-opacity="1" stroke-width="1" stroke-dasharray="4.5 5.3"/>
<line x1="13.5" y1="536.8" x2="1482.5" y2="536.8" stroke="#868993" stroke-opacity="0.5" stroke-width="1" stroke-dasharray="4.5 5.3"/>
<line x1="13.5" y1="554.6" x2="1482.5" y2="554.6" stroke="#868993" stroke-opacity="1" stroke-width="1" stroke-dasharray="4.5 5.3"/>
<line x1="13.5" y1="134.5" x2="1482.5" y2="134.5" stroke="#cdd1dc" stroke-width="1" stroke-dasharray="1.3 1.3"/>
<line x1="13.5" y1="413.5" x2="1586.5" y2="413.5" stroke="#e0e3eb" stroke-width="1"/>
<line x1="13.5" y1="499.5" x2="1586.5" y2="499.5" stroke="#e0e3eb" stroke-width="1"/>
<line x1="13.5" y1="572.5" x2="1586.5" y2="572.5" stroke="#eff0f4" stroke-width="1"/>
<line x1="1482.5" y1="36.5" x2="1482.5" y2="609" stroke="#f5f5f8" stroke-width="1"/>
<rect x="13.5" y="36.5" width="1573.0" height="572.5" fill="none" stroke="#f0f0f3" stroke-width="1"/>
<text x="13.7" y="25.6" font-size="15.4" font-weight="normal" fill="#131722" stroke="#131722" stroke-width="0.3" text-anchor="start" textLength="522.3" lengthAdjust="spacingAndGlyphs">CryptoFXStreet created with TradingView.com, Jul 09, 2025 17:02 UTC-4</text>
<text x="24.5" y="62.3" font-size="15.5" font-weight="normal" fill="#131722" stroke="#131722" stroke-width="0.3" text-anchor="start" textLength="243.0" lengthAdjust="spacingAndGlyphs">Bitcoin / TetherUS · 1D · BINANCE</text>
<text x="277.6" y="62.3" font-size="15.5" font-weight="normal" fill="#131722" stroke="#131722" stroke-width="0.3" text-anchor="start" textLength="89.0" lengthAdjust="spacingAndGlyphs">O108,922.99</text>
<text x="377.9" y="62.3" font-size="15.5" font-weight="normal" fill="#131722" stroke="#131722" stroke-width="0.3" text-anchor="start" textLength="88.3" lengthAdjust="spacingAndGlyphs">H111,999.79</text>
<text x="477.3" y="62.3" font-size="15.5" font-weight="normal" fill="#131722" stroke="#131722" stroke-width="0.3" text-anchor="start" textLength="85.4" lengthAdjust="spacingAndGlyphs">L108,324.53</text>
<text x="573.5" y="62.3" font-size="15.5" font-weight="normal" fill="#131722" stroke="#131722" stroke-width="0.3" text-anchor="start" textLength="88.1" lengthAdjust="spacingAndGlyphs">C110,877.76</text>
<text x="672.9" y="62.3" font-size="15.5" font-weight="normal" fill="#131722" stroke="#131722" stroke-width="0.3" text-anchor="start" textLength="135.6" lengthAdjust="spacingAndGlyphs">+1,954.78 (+1.79%)</text>
<text x="24.5" y="85.6" font-size="15.5" font-weight="normal" fill="#131722" stroke="#131722" stroke-width="0.3" text-anchor="start" textLength="34.2" lengthAdjust="spacingAndGlyphs">SMAs</text>
<text x="24.5" y="108.6" font-size="15.5" font-weight="normal" fill="#131722" stroke="#131722" stroke-width="0.3" text-anchor="start" textLength="64.5" lengthAdjust="spacingAndGlyphs">Vol · BTC</text>
<text x="24.5" y="131.7" font-size="15.5" font-weight="normal" fill="#131722" stroke="#131722" stroke-width="0.3" text-anchor="start" textLength="28.0" lengthAdjust="spacingAndGlyphs">EMA</text>
<text x="24.5" y="440.5" font-size="15.5" font-weight="normal" fill="#131722" stroke="#131722" stroke-width="0.3" text-anchor="start" textLength="21.0" lengthAdjust="spacingAndGlyphs">RSI</text>
<text x="24.5" y="525.5" font-size="15.5" font-weight="normal" fill="#131722" stroke="#131722" stroke-width="0.3" text-anchor="start" textLength="38.0" lengthAdjust="spacingAndGlyphs">Stoch</text>
<rect x="1487.5" y="41.5" width="93" height="34" rx="4.5" fill="#fff" stroke="#eaebef"/>
<text x="1500.8" y="64.2" font-size="16" font-weight="normal" fill="#131722" stroke="#131722" stroke-width="0.3" text-anchor="start" textLength="35.8" lengthAdjust="spacingAndGlyphs">USDT</text>
<text x="1495.3" y="214.8" font-size="15.5" font-weight="normal" fill="#131722" stroke="#131722" stroke-width="0.3" text-anchor="start" textLength="78.5" lengthAdjust="spacingAndGlyphs">100,000.00</text>
<text x="1495.3" y="285.7" font-size="15.5" font-weight="normal" fill="#131722" stroke="#131722" stroke-width="0.3" text-anchor="start" textLength="70.0" lengthAdjust="spacingAndGlyphs">90,000.00</text>
<text x="1495.3" y="356.0" font-size="15.5" font-weight="normal" fill="#131722" stroke="#131722" stroke-width="0.3" text-anchor="start" textLength="70.0" lengthAdjust="spacingAndGlyphs">80,000.00</text>
<text x="1495.3" y="431.3" font-size="15.5" font-weight="normal" fill="#131722" stroke="#131722" stroke-width="0.3" text-anchor="start" textLength="39.0" lengthAdjust="spacingAndGlyphs">80.00</text>
<text x="1495.3" y="511.4" font-size="15.5" font-weight="normal" fill="#131722" stroke="#131722" stroke-width="0.3" text-anchor="start" textLength="47.0" lengthAdjust="spacingAndGlyphs">100.00</text>
<text x="1495.3" y="572.0" font-size="15.5" font-weight="normal" fill="#131722" stroke="#131722" stroke-width="0.3" text-anchor="start" textLength="30.5" lengthAdjust="spacingAndGlyphs">0.00</text>
<path d="M1483 122h96a2 2 0 0 1 2 2v41h-98z" fill="#d1d4dc"/>
<text x="1495.3" y="139.0" font-size="15.5" font-weight="normal" fill="#131722" stroke="#131722" stroke-width="0.5" text-anchor="start" textLength="78.5" lengthAdjust="spacingAndGlyphs">110,877.76</text>
<text x="1495.3" y="157.9" font-size="15.5" font-weight="normal" fill="#2a2e39" stroke="#2a2e39" stroke-width="0.3" text-anchor="start" textLength="61.0" lengthAdjust="spacingAndGlyphs">02:57:45</text>
<path d="M1483 165h98v21.3a2 2 0 0 1 -2 2h-96z" fill="#2962ff"/>
<text x="1495.3" y="180.9" font-size="15.5" font-weight="bold" fill="#fff" text-anchor="start" textLength="78.5" lengthAdjust="spacingAndGlyphs">105,497.66</text>
<path d="M1483 387.5h67.5a2 2 0 0 1 2 2v20.2a2 2 0 0 1 -2 2h-67.5z" fill="#26a69a"/>
<text x="1495.3" y="405.3" font-size="15.5" font-weight="bold" fill="#fff" text-anchor="start" textLength="50.7" lengthAdjust="spacingAndGlyphs">15.45 K</text>
<path d="M1483 436h56a2 2 0 0 1 2 2v20.6h-58z" fill="#7e57c2"/>
<text x="1495.3" y="453.2" font-size="15.5" font-weight="bold" fill="#fff" text-anchor="start" textLength="39.0" lengthAdjust="spacingAndGlyphs">61.55</text>
<path d="M1483 458.6h58v20.7a2 2 0 0 1 -2 2h-56z" fill="#fdd835"/>
<text x="1495.3" y="475.8" font-size="15.5" font-weight="bold" fill="#131722" text-anchor="start" textLength="39.0" lengthAdjust="spacingAndGlyphs">56.35</text>
<path d="M1483 504.8h56a2 2 0 0 1 2 2v21.1h-58z" fill="#2962ff"/>
<text x="1495.3" y="522.0" font-size="15.5" font-weight="bold" fill="#fff" text-anchor="start" textLength="39.0" lengthAdjust="spacingAndGlyphs">83.74</text>
<path d="M1483 527.9h58v21.7a2 2 0 0 1 -2 2h-56z" fill="#ff6d00"/>
<text x="1495.3" y="545.2" font-size="15.5" font-weight="bold" fill="#fff" text-anchor="start" textLength="39.0" lengthAdjust="spacingAndGlyphs">71.93</text>
<text x="93.8" y="596.8" font-size="15.5" font-weight="normal" fill="#131722" stroke="#131722" stroke-width="0.3" text-anchor="start" textLength="26.3" lengthAdjust="spacingAndGlyphs">Dec</text>
<text x="255.1" y="596.8" font-size="15.5" font-weight="bold" fill="#131722" text-anchor="start" textLength="36.4" lengthAdjust="spacingAndGlyphs">2025</text>
<text x="426.7" y="596.8" font-size="15.5" font-weight="normal" fill="#131722" stroke="#131722" stroke-width="0.3" text-anchor="start" textLength="25.9" lengthAdjust="spacingAndGlyphs">Feb</text>
<text x="576.8" y="596.8" font-size="15.5" font-weight="normal" fill="#131722" stroke="#131722" stroke-width="0.3" text-anchor="start" textLength="25.9" lengthAdjust="spacingAndGlyphs">Mar</text>
<text x="743.6" y="596.8" font-size="15.5" font-weight="normal" fill="#131722" stroke="#131722" stroke-width="0.3" text-anchor="start" textLength="24.8" lengthAdjust="spacingAndGlyphs">Apr</text>
<text x="903.3" y="596.8" font-size="15.5" font-weight="normal" fill="#131722" stroke="#131722" stroke-width="0.3" text-anchor="start" textLength="27.4" lengthAdjust="spacingAndGlyphs">May</text>
<text x="1071.1" y="596.8" font-size="15.5" font-weight="normal" fill="#131722" stroke="#131722" stroke-width="0.3" text-anchor="start" textLength="24.8" lengthAdjust="spacingAndGlyphs">Jun</text>
<text x="1234.5" y="596.8" font-size="15.5" font-weight="normal" fill="#131722" stroke="#131722" stroke-width="0.3" text-anchor="start" textLength="20.2" lengthAdjust="spacingAndGlyphs">Jul</text>
<text x="1398.2" y="596.8" font-size="15.5" font-weight="normal" fill="#131722" stroke="#131722" stroke-width="0.3" text-anchor="start" textLength="26.1" lengthAdjust="spacingAndGlyphs">Aug</text>
<g fill="#131722"><path d="M13.25 626.05H24.2V638.8H18.5V630.95H13.25Z"/><circle cx="29" cy="628.3" r="2.5"/><path d="M32.75 626.05H39.05L34.25 638.8H28.3Z"/></g>
<text x="44.6" y="639.4" font-size="16.4" font-weight="normal" fill="#131722" stroke="#131722" stroke-width="0.3" text-anchor="start" textLength="93.8" lengthAdjust="spacingAndGlyphs">TradingView</text>
</svg>
</body></html>
